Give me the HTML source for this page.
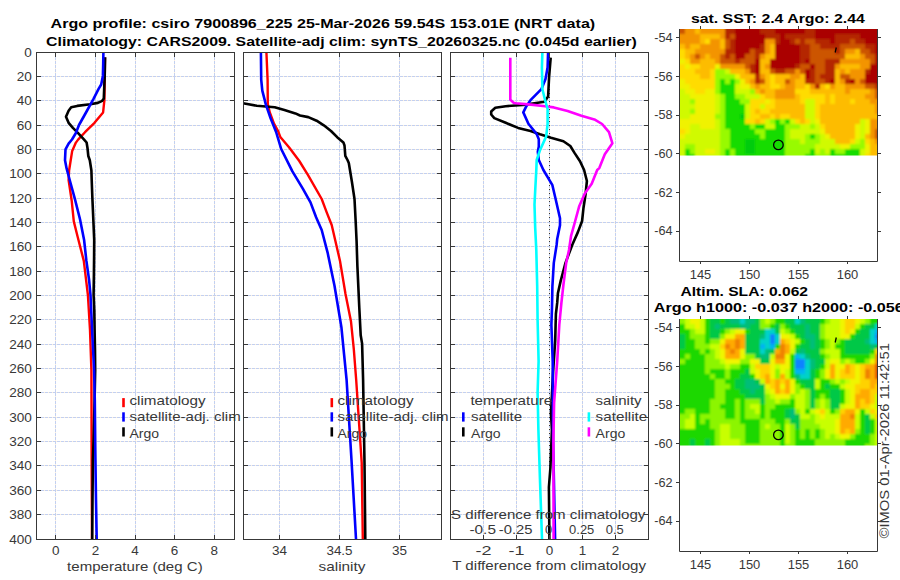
<!DOCTYPE html><html><head><meta charset="utf-8"><style>html,body{margin:0;padding:0;background:#fff;width:900px;height:580px;overflow:hidden}svg{display:block}text{font-family:"Liberation Sans",sans-serif}</style></head><body><svg width="900" height="580" viewBox="0 0 900 580" font-family="Liberation Sans, sans-serif">
<rect width="900" height="580" fill="#fff"/>
<path d="M37 76.5H234M37 100.5H234M37 125.5H234M37 149.5H234M37 173.5H234M37 198.5H234M37 222.5H234M37 246.5H234M37 271.5H234M37 295.5H234M37 319.5H234M37 344.5H234M37 368.5H234M37 392.5H234M37 417.5H234M37 441.5H234M37 465.5H234M37 490.5H234M37 514.5H234M55.5 53V539M95.5 53V539M135.5 53V539M174.5 53V539M214.5 53V539" stroke="#fdf0dc" stroke-width="1" fill="none"/>
<path d="M37 76.5H234M37 100.5H234M37 125.5H234M37 149.5H234M37 173.5H234M37 198.5H234M37 222.5H234M37 246.5H234M37 271.5H234M37 295.5H234M37 319.5H234M37 344.5H234M37 368.5H234M37 392.5H234M37 417.5H234M37 441.5H234M37 465.5H234M37 490.5H234M37 514.5H234M55.5 53V539M95.5 53V539M135.5 53V539M174.5 53V539M214.5 53V539" stroke="#c3d0f0" stroke-width="1" stroke-dasharray="3 1" fill="none"/>
<path d="M244 76.5H441M244 100.5H441M244 125.5H441M244 149.5H441M244 173.5H441M244 198.5H441M244 222.5H441M244 246.5H441M244 271.5H441M244 295.5H441M244 319.5H441M244 344.5H441M244 368.5H441M244 392.5H441M244 417.5H441M244 441.5H441M244 465.5H441M244 490.5H441M244 514.5H441M279.5 53V539M339.5 53V539M399.5 53V539" stroke="#fdf0dc" stroke-width="1" fill="none"/>
<path d="M244 76.5H441M244 100.5H441M244 125.5H441M244 149.5H441M244 173.5H441M244 198.5H441M244 222.5H441M244 246.5H441M244 271.5H441M244 295.5H441M244 319.5H441M244 344.5H441M244 368.5H441M244 392.5H441M244 417.5H441M244 441.5H441M244 465.5H441M244 490.5H441M244 514.5H441M279.5 53V539M339.5 53V539M399.5 53V539" stroke="#c3d0f0" stroke-width="1" stroke-dasharray="3 1" fill="none"/>
<path d="M451 76.5H648M451 100.5H648M451 125.5H648M451 149.5H648M451 173.5H648M451 198.5H648M451 222.5H648M451 246.5H648M451 271.5H648M451 295.5H648M451 319.5H648M451 344.5H648M451 368.5H648M451 392.5H648M451 417.5H648M451 441.5H648M451 465.5H648M451 490.5H648M451 514.5H648M483.5 53V539M516.5 53V539M549.5 53V539M582.5 53V539M615.5 53V539" stroke="#fdf0dc" stroke-width="1" fill="none"/>
<path d="M451 76.5H648M451 100.5H648M451 125.5H648M451 149.5H648M451 173.5H648M451 198.5H648M451 222.5H648M451 246.5H648M451 271.5H648M451 295.5H648M451 319.5H648M451 344.5H648M451 368.5H648M451 392.5H648M451 417.5H648M451 441.5H648M451 465.5H648M451 490.5H648M451 514.5H648M483.5 53V539M516.5 53V539M549.5 53V539M582.5 53V539M615.5 53V539" stroke="#c3d0f0" stroke-width="1" stroke-dasharray="3 1" fill="none"/>
<defs><clipPath id="c1"><rect x="36" y="52" width="199" height="488"/></clipPath><clipPath id="c2"><rect x="243" y="52" width="199" height="488"/></clipPath><clipPath id="c3"><rect x="450" y="52" width="199" height="488"/></clipPath></defs>
<path d="M549.5 53V539" stroke="#333" stroke-width="1" stroke-dasharray="1 3" fill="none"/>
<g clip-path="url(#c1)">
<polyline points="105.0,57.5 104.8,75.0 104.5,95.0 104.4,100.3 104.0,103.8 103.1,112.4 94.5,122.8 85.0,132.2 78.1,139.6 75.9,142.6 72.2,150.9 70.7,160.2 69.1,170.5 68.6,180.0 71.7,200.7 73.8,221.4 77.7,237.0 83.8,260.9 87.9,295.0 90.0,330.0 91.4,370.0 91.5,400.0 91.6,450.0 92.0,539.0" fill="none" stroke="#ff0000" stroke-width="2.4" stroke-linejoin="round" stroke-linecap="butt" />
<polyline points="105.1,57.3 104.9,66.0 104.7,75.9 104.2,88.0 103.8,98.6 102.2,100.8 97.9,102.9 90.2,104.2 77.2,105.9 71.2,107.2 68.6,110.7 66.0,116.7 68.6,122.8 72.9,127.9 78.1,133.1 84.1,139.6 86.6,142.5 87.5,148.0 88.3,156.0 89.8,160.2 91.4,170.5 91.7,180.0 92.4,198.6 93.4,221.4 94.2,240.0 94.1,255.7 93.9,275.0 93.6,295.0 94.3,310.7 94.6,330.0 95.0,350.0 95.2,370.0 94.6,400.0 93.6,440.0 92.9,460.0 92.5,500.0 92.2,539.0" fill="none" stroke="#000" stroke-width="2.6" stroke-linejoin="round" stroke-linecap="butt" />
<polyline points="103.4,52.2 103.2,64.0 102.9,75.9 101.2,84.5 98.6,88.8 93.4,99.1 86.0,112.5 79.0,125.0 75.9,133.0 72.0,139.5 68.6,143.6 65.5,149.3 65.0,160.2 66.6,168.4 69.7,180.0 74.8,198.6 80.0,219.3 84.1,240.0 86.4,260.9 89.1,280.0 90.5,295.0 92.1,330.0 94.1,370.0 94.8,400.0 95.3,450.0 96.0,500.0 96.7,539.0" fill="none" stroke="#0000ff" stroke-width="2.6" stroke-linejoin="round" stroke-linecap="butt" />
</g><g clip-path="url(#c2)">
<polyline points="266.4,52.0 267.6,79.6 267.8,104.4 269.9,112.7 274.0,123.7 278.2,131.3 280.3,136.9 289.0,147.2 299.3,161.0 307.9,174.8 321.7,199.0 326.9,212.8 331.7,225.0 340.0,260.9 345.5,294.0 351.0,321.6 353.8,349.1 356.2,380.0 361.7,462.8 362.8,539.0" fill="none" stroke="#ff0000" stroke-width="2.4" stroke-linejoin="round" stroke-linecap="butt" />
<polyline points="243.0,103.3 256.8,105.8 274.7,107.2 284.4,110.0 295.4,113.4 300.0,115.5 308.3,117.1 316.6,120.7 323.8,125.3 331.0,131.0 337.2,137.2 343.4,142.4 344.5,145.5 345.3,155.9 347.5,160.0 348.8,163.0 351.9,181.7 354.5,199.0 355.6,220.0 356.6,241.6 357.4,266.4 359.3,307.8 360.7,335.3 362.1,343.6 363.1,380.0 364.5,462.8 365.3,539.0" fill="none" stroke="#000" stroke-width="2.6" stroke-linejoin="round" stroke-linecap="butt" />
<polyline points="260.9,52.0 261.2,79.6 262.3,90.6 265.8,104.4 270.6,118.2 276.1,132.0 281.2,149.0 292.4,171.4 302.8,188.6 310.5,202.4 316.0,217.0 321.7,230.0 327.6,252.6 334.5,285.7 341.4,327.1 344.1,354.7 346.6,380.0 351.5,460.0 356.0,539.0" fill="none" stroke="#0000ff" stroke-width="2.6" stroke-linejoin="round" stroke-linecap="butt" />
</g><g clip-path="url(#c3)">
<polyline points="550.7,57.7 549.1,76.8 548.1,96.5 544.5,101.7 531.0,103.7 526.4,104.7 505.7,106.2 495.3,107.8 491.2,111.4 491.2,114.5 494.3,118.1 505.7,122.8 518.1,127.9 530.5,131.0 540.0,134.3 551.0,137.8 563.4,141.2 570.3,146.0 574.5,152.9 580.0,161.2 584.1,170.0 586.9,181.0 585.5,194.8 583.4,208.6 582.1,221.0 577.9,232.1 572.4,244.5 565.5,262.9 560.7,280.9 557.9,293.3 557.2,302.9 555.9,314.0 555.6,325.0 555.2,340.7 553.1,371.7 551.0,413.1 551.9,430.0 550.4,468.0 548.9,487.0 549.4,539.0" fill="none" stroke="#000" stroke-width="2.6" stroke-linejoin="round" stroke-linecap="butt" />
<polyline points="548.1,52.0 547.6,67.5 545.5,78.9 541.4,89.2 531.0,99.6 526.4,106.2 523.3,112.4 528.4,123.8 536.7,134.1 538.8,139.3 538.8,146.6 537.8,151.7 538.8,160.0 543.4,170.0 552.4,185.2 555.9,200.3 560.0,218.3 560.0,225.2 557.2,239.0 556.6,245.0 553.8,262.9 552.4,286.4 552.0,307.1 551.4,325.0 552.7,361.4 553.1,440.0 555.1,539.0" fill="none" stroke="#0000ff" stroke-width="2.6" stroke-linejoin="round" stroke-linecap="butt" />
<polyline points="510.3,57.7 510.3,99.6 513.4,102.7 516.0,103.2 531.0,104.6 545.0,106.2 553.8,107.4 567.6,110.9 581.4,115.7 595.2,119.8 602.1,124.0 609.0,132.2 612.4,143.3 604.8,154.3 599.3,168.1 597.2,170.0 591.7,183.8 584.8,193.4 579.3,205.9 575.2,221.0 571.0,236.2 569.0,250.0 566.2,262.9 563.4,285.0 561.4,302.9 559.3,325.0 557.2,361.4 554.1,402.8 553.4,440.0 553.6,539.0" fill="none" stroke="#ff00ff" stroke-width="2.6" stroke-linejoin="round" stroke-linecap="butt" />
<polyline points="542.4,52.0 541.9,67.5 542.4,89.2 545.5,101.7 547.6,108.8 547.6,124.0 546.2,136.4 540.0,150.2 536.7,160.0 536.3,170.0 535.2,190.7 534.5,204.5 535.2,227.9 536.3,250.0 537.2,286.4 537.6,320.0 538.6,361.4 537.6,392.4 538.4,430.0 539.9,477.5 542.0,539.0" fill="none" stroke="#00ffff" stroke-width="2.6" stroke-linejoin="round" stroke-linecap="butt" />
</g>
<path d="M36.5 76.5H41M234.5 76.5H230M36.5 100.5H41M234.5 100.5H230M36.5 125.5H41M234.5 125.5H230M36.5 149.5H41M234.5 149.5H230M36.5 173.5H41M234.5 173.5H230M36.5 198.5H41M234.5 198.5H230M36.5 222.5H41M234.5 222.5H230M36.5 246.5H41M234.5 246.5H230M36.5 271.5H41M234.5 271.5H230M36.5 295.5H41M234.5 295.5H230M36.5 319.5H41M234.5 319.5H230M36.5 344.5H41M234.5 344.5H230M36.5 368.5H41M234.5 368.5H230M36.5 392.5H41M234.5 392.5H230M36.5 417.5H41M234.5 417.5H230M36.5 441.5H41M234.5 441.5H230M36.5 465.5H41M234.5 465.5H230M36.5 490.5H41M234.5 490.5H230M36.5 514.5H41M234.5 514.5H230M55.5 52.5V57M55.5 539.5V535M95.5 52.5V57M95.5 539.5V535M135.5 52.5V57M135.5 539.5V535M174.5 52.5V57M174.5 539.5V535M214.5 52.5V57M214.5 539.5V535" stroke="#383838" stroke-width="1" fill="none"/>
<rect x="36.5" y="52.5" width="198" height="487" fill="none" stroke="#383838" stroke-width="1"/>
<path d="M243.5 76.5H248M441.5 76.5H437M243.5 100.5H248M441.5 100.5H437M243.5 125.5H248M441.5 125.5H437M243.5 149.5H248M441.5 149.5H437M243.5 173.5H248M441.5 173.5H437M243.5 198.5H248M441.5 198.5H437M243.5 222.5H248M441.5 222.5H437M243.5 246.5H248M441.5 246.5H437M243.5 271.5H248M441.5 271.5H437M243.5 295.5H248M441.5 295.5H437M243.5 319.5H248M441.5 319.5H437M243.5 344.5H248M441.5 344.5H437M243.5 368.5H248M441.5 368.5H437M243.5 392.5H248M441.5 392.5H437M243.5 417.5H248M441.5 417.5H437M243.5 441.5H248M441.5 441.5H437M243.5 465.5H248M441.5 465.5H437M243.5 490.5H248M441.5 490.5H437M243.5 514.5H248M441.5 514.5H437M279.5 52.5V57M279.5 539.5V535M339.5 52.5V57M339.5 539.5V535M399.5 52.5V57M399.5 539.5V535" stroke="#383838" stroke-width="1" fill="none"/>
<rect x="243.5" y="52.5" width="198" height="487" fill="none" stroke="#383838" stroke-width="1"/>
<path d="M450.5 76.5H455M648.5 76.5H644M450.5 100.5H455M648.5 100.5H644M450.5 125.5H455M648.5 125.5H644M450.5 149.5H455M648.5 149.5H644M450.5 173.5H455M648.5 173.5H644M450.5 198.5H455M648.5 198.5H644M450.5 222.5H455M648.5 222.5H644M450.5 246.5H455M648.5 246.5H644M450.5 271.5H455M648.5 271.5H644M450.5 295.5H455M648.5 295.5H644M450.5 319.5H455M648.5 319.5H644M450.5 344.5H455M648.5 344.5H644M450.5 368.5H455M648.5 368.5H644M450.5 392.5H455M648.5 392.5H644M450.5 417.5H455M648.5 417.5H644M450.5 441.5H455M648.5 441.5H644M450.5 465.5H455M648.5 465.5H644M450.5 490.5H455M648.5 490.5H644M450.5 514.5H455M648.5 514.5H644M483.5 52.5V57M483.5 539.5V535M516.5 52.5V57M516.5 539.5V535M549.5 52.5V57M549.5 539.5V535M582.5 52.5V57M582.5 539.5V535M615.5 52.5V57M615.5 539.5V535" stroke="#383838" stroke-width="1" fill="none"/>
<rect x="450.5" y="52.5" width="198" height="487" fill="none" stroke="#383838" stroke-width="1"/>
<text x="24.35" y="56.60" font-size="12.6" fill="#383838" textLength="7.55" lengthAdjust="spacingAndGlyphs" >0</text>
<text x="16.80" y="80.60" font-size="12.6" fill="#383838" textLength="15.10" lengthAdjust="spacingAndGlyphs" >20</text>
<text x="16.80" y="104.60" font-size="12.6" fill="#383838" textLength="15.10" lengthAdjust="spacingAndGlyphs" >40</text>
<text x="16.80" y="129.60" font-size="12.6" fill="#383838" textLength="15.10" lengthAdjust="spacingAndGlyphs" >60</text>
<text x="16.80" y="153.60" font-size="12.6" fill="#383838" textLength="15.10" lengthAdjust="spacingAndGlyphs" >80</text>
<text x="9.25" y="177.60" font-size="12.6" fill="#383838" textLength="22.65" lengthAdjust="spacingAndGlyphs" >100</text>
<text x="9.25" y="202.60" font-size="12.6" fill="#383838" textLength="22.65" lengthAdjust="spacingAndGlyphs" >120</text>
<text x="9.25" y="226.60" font-size="12.6" fill="#383838" textLength="22.65" lengthAdjust="spacingAndGlyphs" >140</text>
<text x="9.25" y="250.60" font-size="12.6" fill="#383838" textLength="22.65" lengthAdjust="spacingAndGlyphs" >160</text>
<text x="9.25" y="275.60" font-size="12.6" fill="#383838" textLength="22.65" lengthAdjust="spacingAndGlyphs" >180</text>
<text x="9.25" y="299.60" font-size="12.6" fill="#383838" textLength="22.65" lengthAdjust="spacingAndGlyphs" >200</text>
<text x="9.25" y="323.60" font-size="12.6" fill="#383838" textLength="22.65" lengthAdjust="spacingAndGlyphs" >220</text>
<text x="9.25" y="348.60" font-size="12.6" fill="#383838" textLength="22.65" lengthAdjust="spacingAndGlyphs" >240</text>
<text x="9.25" y="372.60" font-size="12.6" fill="#383838" textLength="22.65" lengthAdjust="spacingAndGlyphs" >260</text>
<text x="9.25" y="396.60" font-size="12.6" fill="#383838" textLength="22.65" lengthAdjust="spacingAndGlyphs" >280</text>
<text x="9.25" y="421.60" font-size="12.6" fill="#383838" textLength="22.65" lengthAdjust="spacingAndGlyphs" >300</text>
<text x="9.25" y="445.60" font-size="12.6" fill="#383838" textLength="22.65" lengthAdjust="spacingAndGlyphs" >320</text>
<text x="9.25" y="469.60" font-size="12.6" fill="#383838" textLength="22.65" lengthAdjust="spacingAndGlyphs" >340</text>
<text x="9.25" y="494.60" font-size="12.6" fill="#383838" textLength="22.65" lengthAdjust="spacingAndGlyphs" >360</text>
<text x="9.25" y="518.60" font-size="12.6" fill="#383838" textLength="22.65" lengthAdjust="spacingAndGlyphs" >380</text>
<text x="9.25" y="543.60" font-size="12.6" fill="#383838" textLength="22.65" lengthAdjust="spacingAndGlyphs" >400</text>
<text x="52.05" y="554.60" font-size="12.6" fill="#383838" textLength="7.50" lengthAdjust="spacingAndGlyphs" >0</text>
<text x="91.65" y="554.60" font-size="12.6" fill="#383838" textLength="7.50" lengthAdjust="spacingAndGlyphs" >2</text>
<text x="131.25" y="554.60" font-size="12.6" fill="#383838" textLength="7.50" lengthAdjust="spacingAndGlyphs" >4</text>
<text x="170.85" y="554.60" font-size="12.6" fill="#383838" textLength="7.50" lengthAdjust="spacingAndGlyphs" >6</text>
<text x="210.45" y="554.60" font-size="12.6" fill="#383838" textLength="7.50" lengthAdjust="spacingAndGlyphs" >8</text>
<text x="272.00" y="554.60" font-size="12.6" fill="#383838" textLength="15.00" lengthAdjust="spacingAndGlyphs" >34</text>
<text x="326.45" y="554.60" font-size="12.6" fill="#383838" textLength="26.10" lengthAdjust="spacingAndGlyphs" >34.5</text>
<text x="392.00" y="554.60" font-size="12.6" fill="#383838" textLength="15.00" lengthAdjust="spacingAndGlyphs" >35</text>
<text x="475.50" y="554.60" font-size="12.6" fill="#383838" textLength="16.00" lengthAdjust="spacingAndGlyphs" >-2</text>
<text x="508.50" y="554.60" font-size="12.6" fill="#383838" textLength="16.00" lengthAdjust="spacingAndGlyphs" >-1</text>
<text x="545.75" y="554.60" font-size="12.6" fill="#383838" textLength="7.50" lengthAdjust="spacingAndGlyphs" >0</text>
<text x="578.75" y="554.60" font-size="12.6" fill="#383838" textLength="7.50" lengthAdjust="spacingAndGlyphs" >1</text>
<text x="611.75" y="554.60" font-size="12.6" fill="#383838" textLength="7.50" lengthAdjust="spacingAndGlyphs" >2</text>
<text x="67.10" y="571.00" font-size="12.6" fill="#383838" textLength="135.60" lengthAdjust="spacingAndGlyphs" >temperature (deg C)</text>
<text x="318.50" y="571.00" font-size="12.6" fill="#383838" textLength="47.00" lengthAdjust="spacingAndGlyphs" >salinity</text>
<text x="452.20" y="570.20" font-size="12.6" fill="#383838" textLength="193.90" lengthAdjust="spacingAndGlyphs" >T difference from climatology</text>
<text x="451.00" y="518.80" font-size="12.6" fill="#383838" textLength="194.40" lengthAdjust="spacingAndGlyphs" >S difference from climatology</text>
<text x="469.45" y="533.60" font-size="12.6" fill="#383838" textLength="26.50" lengthAdjust="spacingAndGlyphs" >-0.5</text>
<text x="498.85" y="533.60" font-size="12.6" fill="#383838" textLength="33.70" lengthAdjust="spacingAndGlyphs" >-0.25</text>
<text x="545.10" y="533.60" font-size="12.6" fill="#383838" textLength="7.20" lengthAdjust="spacingAndGlyphs" >0</text>
<text x="569.10" y="533.60" font-size="12.6" fill="#383838" textLength="25.20" lengthAdjust="spacingAndGlyphs" >0.25</text>
<text x="605.70" y="533.60" font-size="12.6" fill="#383838" textLength="18.00" lengthAdjust="spacingAndGlyphs" >0.5</text>
<rect x="122.2" y="398.1" width="2.6" height="9.1" fill="#ff0000"/>
<rect x="122.2" y="412.3" width="2.6" height="9.3" fill="#0000ff"/>
<rect x="122.2" y="427.3" width="2.6" height="9.2" fill="#000"/>
<text x="129.50" y="405.00" font-size="12.6" fill="#383838" textLength="76.10" lengthAdjust="spacingAndGlyphs" >climatology</text>
<text x="129.50" y="421.30" font-size="12.6" fill="#383838" textLength="111.20" lengthAdjust="spacingAndGlyphs" >satellite-adj. clim</text>
<text x="129.50" y="438.20" font-size="12.6" fill="#383838" textLength="29.60" lengthAdjust="spacingAndGlyphs" >Argo</text>
<rect x="330.5" y="398.1" width="2.6" height="9.1" fill="#ff0000"/>
<rect x="330.5" y="412.3" width="2.6" height="9.3" fill="#0000ff"/>
<rect x="330.5" y="427.3" width="2.6" height="9.2" fill="#000"/>
<text x="337.41" y="405.00" font-size="12.6" fill="#383838" textLength="76.10" lengthAdjust="spacingAndGlyphs" >climatology</text>
<text x="337.41" y="421.30" font-size="12.6" fill="#383838" textLength="111.20" lengthAdjust="spacingAndGlyphs" >satellite-adj. clim</text>
<text x="337.41" y="438.20" font-size="12.6" fill="#383838" textLength="29.60" lengthAdjust="spacingAndGlyphs" >Argo</text>
<rect x="462.0" y="412.3" width="2.6" height="9.3" fill="#0000ff"/>
<rect x="462.0" y="427.3" width="2.6" height="9.2" fill="#000"/>
<rect x="587.6" y="412.3" width="2.6" height="9.3" fill="#00ffff"/>
<rect x="587.6" y="427.3" width="2.6" height="9.2" fill="#ff00ff"/>
<text x="470.40" y="404.60" font-size="12.6" fill="#383838" textLength="81.80" lengthAdjust="spacingAndGlyphs" >temperature</text>
<text x="471.00" y="421.20" font-size="12.6" fill="#383838" textLength="51.20" lengthAdjust="spacingAndGlyphs" >satellite</text>
<text x="471.00" y="437.90" font-size="12.6" fill="#383838" textLength="29.70" lengthAdjust="spacingAndGlyphs" >Argo</text>
<text x="595.60" y="404.60" font-size="12.6" fill="#383838" textLength="46.00" lengthAdjust="spacingAndGlyphs" >salinity</text>
<text x="595.60" y="421.20" font-size="12.6" fill="#383838" textLength="51.70" lengthAdjust="spacingAndGlyphs" >satellite</text>
<text x="595.60" y="437.90" font-size="12.6" fill="#383838" textLength="29.70" lengthAdjust="spacingAndGlyphs" >Argo</text>
<text x="50.60" y="28.30" font-size="12.4" font-weight="bold" fill="#000" textLength="544.60" lengthAdjust="spacingAndGlyphs" >Argo profile: csiro 7900896_225 25-Mar-2026 59.54S 153.01E (NRT data)</text>
<text x="46.10" y="46.00" font-size="12.4" font-weight="bold" fill="#000" textLength="590.70" lengthAdjust="spacingAndGlyphs" >Climatology: CARS2009. Satellite-adj clim: synTS_20260325.nc (0.045d earlier)</text>
<defs><filter id="mb" x="-0.05" y="-0.05" width="1.1" height="1.1"><feGaussianBlur stdDeviation="1.2"/></filter><clipPath id="m1c"><rect x="680" y="29" width="197" height="126.6"/></clipPath><clipPath id="m2c"><rect x="680" y="319" width="197" height="126.6"/></clipPath></defs>
<g clip-path="url(#m1c)"><g filter="url(#mb)"><rect x="675" y="24" width="10" height="5.2" fill="#cc5400"/><rect x="685" y="24" width="10" height="5.2" fill="#f39400"/><rect x="695" y="24" width="5" height="5.2" fill="#fdbc00"/><rect x="700" y="24" width="25" height="5.2" fill="#f39400"/><rect x="725" y="24" width="10" height="5.2" fill="#b42800"/><rect x="735" y="24" width="25" height="5.2" fill="#aa0000"/><rect x="760" y="24" width="15" height="5.2" fill="#b42800"/><rect x="775" y="24" width="30" height="5.2" fill="#aa0000"/><rect x="805" y="24" width="10" height="5.2" fill="#b42800"/><rect x="815" y="24" width="70" height="5.2" fill="#aa0000"/><rect x="675" y="29" width="10" height="5.2" fill="#cc5400"/><rect x="685" y="29" width="10" height="5.2" fill="#f39400"/><rect x="695" y="29" width="5" height="5.2" fill="#fdbc00"/><rect x="700" y="29" width="25" height="5.2" fill="#f39400"/><rect x="725" y="29" width="10" height="5.2" fill="#b42800"/><rect x="735" y="29" width="25" height="5.2" fill="#aa0000"/><rect x="760" y="29" width="15" height="5.2" fill="#b42800"/><rect x="775" y="29" width="30" height="5.2" fill="#aa0000"/><rect x="805" y="29" width="10" height="5.2" fill="#b42800"/><rect x="815" y="29" width="70" height="5.2" fill="#aa0000"/><rect x="675" y="34" width="25" height="5.2" fill="#f39400"/><rect x="700" y="34" width="20" height="5.2" fill="#fdbc00"/><rect x="720" y="34" width="5" height="5.2" fill="#f39400"/><rect x="725" y="34" width="5" height="5.2" fill="#b42800"/><rect x="730" y="34" width="5" height="5.2" fill="#cc5400"/><rect x="735" y="34" width="30" height="5.2" fill="#aa0000"/><rect x="765" y="34" width="15" height="5.2" fill="#b42800"/><rect x="780" y="34" width="5" height="5.2" fill="#aa0000"/><rect x="785" y="34" width="30" height="5.2" fill="#b42800"/><rect x="815" y="34" width="20" height="5.2" fill="#aa0000"/><rect x="835" y="34" width="25" height="5.2" fill="#b42800"/><rect x="860" y="34" width="25" height="5.2" fill="#aa0000"/><rect x="675" y="39" width="25" height="5.2" fill="#f39400"/><rect x="700" y="39" width="5" height="5.2" fill="#fdbc00"/><rect x="705" y="39" width="5" height="5.2" fill="#ffdc00"/><rect x="710" y="39" width="10" height="5.2" fill="#f39400"/><rect x="720" y="39" width="5" height="5.2" fill="#fdbc00"/><rect x="725" y="39" width="5" height="5.2" fill="#cc5400"/><rect x="730" y="39" width="5" height="5.2" fill="#b42800"/><rect x="735" y="39" width="30" height="5.2" fill="#aa0000"/><rect x="765" y="39" width="10" height="5.2" fill="#f39400"/><rect x="775" y="39" width="5" height="5.2" fill="#b42800"/><rect x="780" y="39" width="10" height="5.2" fill="#aa0000"/><rect x="790" y="39" width="5" height="5.2" fill="#b42800"/><rect x="795" y="39" width="5" height="5.2" fill="#cc5400"/><rect x="800" y="39" width="5" height="5.2" fill="#b42800"/><rect x="805" y="39" width="10" height="5.2" fill="#cc5400"/><rect x="815" y="39" width="15" height="5.2" fill="#b42800"/><rect x="830" y="39" width="5" height="5.2" fill="#aa0000"/><rect x="835" y="39" width="15" height="5.2" fill="#b42800"/><rect x="850" y="39" width="5" height="5.2" fill="#cc5400"/><rect x="855" y="39" width="10" height="5.2" fill="#b42800"/><rect x="865" y="39" width="20" height="5.2" fill="#aa0000"/><rect x="675" y="44" width="10" height="5.2" fill="#fdbc00"/><rect x="685" y="44" width="5" height="5.2" fill="#f39400"/><rect x="690" y="44" width="10" height="5.2" fill="#fdbc00"/><rect x="700" y="44" width="20" height="5.2" fill="#f39400"/><rect x="720" y="44" width="5" height="5.2" fill="#fdbc00"/><rect x="725" y="44" width="5" height="5.2" fill="#cc5400"/><rect x="730" y="44" width="5" height="5.2" fill="#b42800"/><rect x="735" y="44" width="25" height="5.2" fill="#aa0000"/><rect x="760" y="44" width="5" height="5.2" fill="#b42800"/><rect x="765" y="44" width="5" height="5.2" fill="#f39400"/><rect x="770" y="44" width="5" height="5.2" fill="#fdbc00"/><rect x="775" y="44" width="25" height="5.2" fill="#aa0000"/><rect x="800" y="44" width="10" height="5.2" fill="#b42800"/><rect x="810" y="44" width="10" height="5.2" fill="#cc5400"/><rect x="820" y="44" width="20" height="5.2" fill="#b42800"/><rect x="840" y="44" width="25" height="5.2" fill="#cc5400"/><rect x="865" y="44" width="10" height="5.2" fill="#b42800"/><rect x="875" y="44" width="10" height="5.2" fill="#aa0000"/><rect x="675" y="49" width="10" height="5.2" fill="#ffdc00"/><rect x="685" y="49" width="10" height="5.2" fill="#fdbc00"/><rect x="695" y="49" width="30" height="5.2" fill="#f39400"/><rect x="725" y="49" width="10" height="5.2" fill="#b42800"/><rect x="735" y="49" width="15" height="5.2" fill="#aa0000"/><rect x="750" y="49" width="5" height="5.2" fill="#cc5400"/><rect x="755" y="49" width="10" height="5.2" fill="#b42800"/><rect x="765" y="49" width="5" height="5.2" fill="#f39400"/><rect x="770" y="49" width="5" height="5.2" fill="#fdbc00"/><rect x="775" y="49" width="25" height="5.2" fill="#aa0000"/><rect x="800" y="49" width="10" height="5.2" fill="#b42800"/><rect x="810" y="49" width="25" height="5.2" fill="#cc5400"/><rect x="835" y="49" width="5" height="5.2" fill="#b42800"/><rect x="840" y="49" width="5" height="5.2" fill="#cc5400"/><rect x="845" y="49" width="10" height="5.2" fill="#f39400"/><rect x="855" y="49" width="5" height="5.2" fill="#fdbc00"/><rect x="860" y="49" width="10" height="5.2" fill="#cc5400"/><rect x="870" y="49" width="5" height="5.2" fill="#b42800"/><rect x="875" y="49" width="10" height="5.2" fill="#aa0000"/><rect x="675" y="54" width="10" height="5.2" fill="#ffdc00"/><rect x="685" y="54" width="5" height="5.2" fill="#fdbc00"/><rect x="690" y="54" width="5" height="5.2" fill="#f39400"/><rect x="695" y="54" width="5" height="5.2" fill="#cc5400"/><rect x="700" y="54" width="5" height="5.2" fill="#f39400"/><rect x="705" y="54" width="5" height="5.2" fill="#fdbc00"/><rect x="710" y="54" width="10" height="5.2" fill="#f39400"/><rect x="720" y="54" width="5" height="5.2" fill="#cc5400"/><rect x="725" y="54" width="5" height="5.2" fill="#b42800"/><rect x="730" y="54" width="5" height="5.2" fill="#cc5400"/><rect x="735" y="54" width="10" height="5.2" fill="#aa0000"/><rect x="745" y="54" width="10" height="5.2" fill="#cc5400"/><rect x="755" y="54" width="5" height="5.2" fill="#b42800"/><rect x="760" y="54" width="5" height="5.2" fill="#f39400"/><rect x="765" y="54" width="10" height="5.2" fill="#fdbc00"/><rect x="775" y="54" width="25" height="5.2" fill="#aa0000"/><rect x="800" y="54" width="10" height="5.2" fill="#b42800"/><rect x="810" y="54" width="35" height="5.2" fill="#cc5400"/><rect x="845" y="54" width="15" height="5.2" fill="#fdbc00"/><rect x="860" y="54" width="5" height="5.2" fill="#f39400"/><rect x="865" y="54" width="10" height="5.2" fill="#cc5400"/><rect x="875" y="54" width="10" height="5.2" fill="#aa0000"/><rect x="675" y="59" width="10" height="5.2" fill="#f0f200"/><rect x="685" y="59" width="5" height="5.2" fill="#ffdc00"/><rect x="690" y="59" width="10" height="5.2" fill="#f39400"/><rect x="700" y="59" width="15" height="5.2" fill="#fdbc00"/><rect x="715" y="59" width="5" height="5.2" fill="#f39400"/><rect x="720" y="59" width="15" height="5.2" fill="#cc5400"/><rect x="735" y="59" width="5" height="5.2" fill="#b42800"/><rect x="740" y="59" width="15" height="5.2" fill="#cc5400"/><rect x="755" y="59" width="5" height="5.2" fill="#aa0000"/><rect x="760" y="59" width="10" height="5.2" fill="#fdbc00"/><rect x="770" y="59" width="30" height="5.2" fill="#aa0000"/><rect x="800" y="59" width="5" height="5.2" fill="#b42800"/><rect x="805" y="59" width="5" height="5.2" fill="#aa0000"/><rect x="810" y="59" width="15" height="5.2" fill="#cc5400"/><rect x="825" y="59" width="15" height="5.2" fill="#b42800"/><rect x="840" y="59" width="30" height="5.2" fill="#f39400"/><rect x="870" y="59" width="5" height="5.2" fill="#cc5400"/><rect x="875" y="59" width="10" height="5.2" fill="#aa0000"/><rect x="675" y="64" width="10" height="5.2" fill="#ffdc00"/><rect x="685" y="64" width="5" height="5.2" fill="#f0f200"/><rect x="690" y="64" width="10" height="5.2" fill="#ffdc00"/><rect x="700" y="64" width="15" height="5.2" fill="#fdbc00"/><rect x="715" y="64" width="5" height="5.2" fill="#f0f200"/><rect x="720" y="64" width="25" height="5.2" fill="#f39400"/><rect x="745" y="64" width="5" height="5.2" fill="#cc5400"/><rect x="750" y="64" width="5" height="5.2" fill="#b42800"/><rect x="755" y="64" width="5" height="5.2" fill="#aa0000"/><rect x="760" y="64" width="5" height="5.2" fill="#fdbc00"/><rect x="765" y="64" width="5" height="5.2" fill="#f39400"/><rect x="770" y="64" width="25" height="5.2" fill="#aa0000"/><rect x="795" y="64" width="5" height="5.2" fill="#b42800"/><rect x="800" y="64" width="10" height="5.2" fill="#cc5400"/><rect x="810" y="64" width="5" height="5.2" fill="#aa0000"/><rect x="815" y="64" width="10" height="5.2" fill="#cc5400"/><rect x="825" y="64" width="10" height="5.2" fill="#b42800"/><rect x="835" y="64" width="5" height="5.2" fill="#f39400"/><rect x="840" y="64" width="20" height="5.2" fill="#fdbc00"/><rect x="860" y="64" width="10" height="5.2" fill="#f39400"/><rect x="870" y="64" width="15" height="5.2" fill="#aa0000"/><rect x="675" y="69" width="20" height="5.2" fill="#ffdc00"/><rect x="695" y="69" width="15" height="5.2" fill="#fdbc00"/><rect x="710" y="69" width="5" height="5.2" fill="#ffdc00"/><rect x="715" y="69" width="10" height="5.2" fill="#98fa00"/><rect x="725" y="69" width="5" height="5.2" fill="#d0fa00"/><rect x="730" y="69" width="15" height="5.2" fill="#fdbc00"/><rect x="745" y="69" width="5" height="5.2" fill="#f39400"/><rect x="750" y="69" width="5" height="5.2" fill="#b42800"/><rect x="755" y="69" width="5" height="5.2" fill="#aa0000"/><rect x="760" y="69" width="10" height="5.2" fill="#fdbc00"/><rect x="770" y="69" width="5" height="5.2" fill="#cc5400"/><rect x="775" y="69" width="10" height="5.2" fill="#b42800"/><rect x="785" y="69" width="10" height="5.2" fill="#cc5400"/><rect x="795" y="69" width="5" height="5.2" fill="#f39400"/><rect x="800" y="69" width="5" height="5.2" fill="#cc5400"/><rect x="805" y="69" width="5" height="5.2" fill="#aa0000"/><rect x="810" y="69" width="5" height="5.2" fill="#b42800"/><rect x="815" y="69" width="10" height="5.2" fill="#cc5400"/><rect x="825" y="69" width="10" height="5.2" fill="#b42800"/><rect x="835" y="69" width="5" height="5.2" fill="#fdbc00"/><rect x="840" y="69" width="5" height="5.2" fill="#f39400"/><rect x="845" y="69" width="5" height="5.2" fill="#fdbc00"/><rect x="850" y="69" width="15" height="5.2" fill="#f39400"/><rect x="865" y="69" width="5" height="5.2" fill="#b42800"/><rect x="870" y="69" width="15" height="5.2" fill="#aa0000"/><rect x="675" y="74" width="25" height="5.2" fill="#ffdc00"/><rect x="700" y="74" width="10" height="5.2" fill="#fdbc00"/><rect x="710" y="74" width="5" height="5.2" fill="#ffdc00"/><rect x="715" y="74" width="20" height="5.2" fill="#98fa00"/><rect x="735" y="74" width="5" height="5.2" fill="#f0f200"/><rect x="740" y="74" width="15" height="5.2" fill="#fdbc00"/><rect x="755" y="74" width="5" height="5.2" fill="#b42800"/><rect x="760" y="74" width="5" height="5.2" fill="#f39400"/><rect x="765" y="74" width="5" height="5.2" fill="#fdbc00"/><rect x="770" y="74" width="5" height="5.2" fill="#ffdc00"/><rect x="775" y="74" width="15" height="5.2" fill="#fdbc00"/><rect x="790" y="74" width="10" height="5.2" fill="#f39400"/><rect x="800" y="74" width="5" height="5.2" fill="#fdbc00"/><rect x="805" y="74" width="5" height="5.2" fill="#aa0000"/><rect x="810" y="74" width="5" height="5.2" fill="#b42800"/><rect x="815" y="74" width="5" height="5.2" fill="#cc5400"/><rect x="820" y="74" width="15" height="5.2" fill="#b42800"/><rect x="835" y="74" width="5" height="5.2" fill="#fdbc00"/><rect x="840" y="74" width="10" height="5.2" fill="#cc5400"/><rect x="850" y="74" width="15" height="5.2" fill="#f39400"/><rect x="865" y="74" width="20" height="5.2" fill="#aa0000"/><rect x="675" y="79" width="10" height="5.2" fill="#f0f200"/><rect x="685" y="79" width="30" height="5.2" fill="#ffdc00"/><rect x="715" y="79" width="5" height="5.2" fill="#98fa00"/><rect x="720" y="79" width="5" height="5.2" fill="#14dc00"/><rect x="725" y="79" width="5" height="5.2" fill="#98fa00"/><rect x="730" y="79" width="5" height="5.2" fill="#14dc00"/><rect x="735" y="79" width="5" height="5.2" fill="#98fa00"/><rect x="740" y="79" width="5" height="5.2" fill="#f0f200"/><rect x="745" y="79" width="5" height="5.2" fill="#fdbc00"/><rect x="750" y="79" width="5" height="5.2" fill="#f39400"/><rect x="755" y="79" width="5" height="5.2" fill="#b42800"/><rect x="760" y="79" width="5" height="5.2" fill="#cc5400"/><rect x="765" y="79" width="5" height="5.2" fill="#fdbc00"/><rect x="770" y="79" width="5" height="5.2" fill="#ffdc00"/><rect x="775" y="79" width="10" height="5.2" fill="#fdbc00"/><rect x="785" y="79" width="5" height="5.2" fill="#cc5400"/><rect x="790" y="79" width="5" height="5.2" fill="#f39400"/><rect x="795" y="79" width="10" height="5.2" fill="#fdbc00"/><rect x="805" y="79" width="10" height="5.2" fill="#b42800"/><rect x="815" y="79" width="10" height="5.2" fill="#cc5400"/><rect x="825" y="79" width="5" height="5.2" fill="#b42800"/><rect x="830" y="79" width="5" height="5.2" fill="#aa0000"/><rect x="835" y="79" width="5" height="5.2" fill="#fdbc00"/><rect x="840" y="79" width="5" height="5.2" fill="#f39400"/><rect x="845" y="79" width="5" height="5.2" fill="#b42800"/><rect x="850" y="79" width="5" height="5.2" fill="#aa0000"/><rect x="855" y="79" width="5" height="5.2" fill="#f39400"/><rect x="860" y="79" width="5" height="5.2" fill="#cc5400"/><rect x="865" y="79" width="20" height="5.2" fill="#aa0000"/><rect x="675" y="84" width="15" height="5.2" fill="#f0f200"/><rect x="690" y="84" width="25" height="5.2" fill="#ffdc00"/><rect x="715" y="84" width="5" height="5.2" fill="#98fa00"/><rect x="720" y="84" width="15" height="5.2" fill="#14dc00"/><rect x="735" y="84" width="5" height="5.2" fill="#d0fa00"/><rect x="740" y="84" width="10" height="5.2" fill="#f0f200"/><rect x="750" y="84" width="5" height="5.2" fill="#fdbc00"/><rect x="755" y="84" width="5" height="5.2" fill="#f39400"/><rect x="760" y="84" width="10" height="5.2" fill="#fdbc00"/><rect x="770" y="84" width="10" height="5.2" fill="#ffdc00"/><rect x="780" y="84" width="5" height="5.2" fill="#fdbc00"/><rect x="785" y="84" width="10" height="5.2" fill="#f39400"/><rect x="795" y="84" width="10" height="5.2" fill="#fdbc00"/><rect x="805" y="84" width="5" height="5.2" fill="#ffdc00"/><rect x="810" y="84" width="5" height="5.2" fill="#f39400"/><rect x="815" y="84" width="5" height="5.2" fill="#b42800"/><rect x="820" y="84" width="5" height="5.2" fill="#fdbc00"/><rect x="825" y="84" width="5" height="5.2" fill="#ffdc00"/><rect x="830" y="84" width="5" height="5.2" fill="#f39400"/><rect x="835" y="84" width="10" height="5.2" fill="#fdbc00"/><rect x="845" y="84" width="20" height="5.2" fill="#f39400"/><rect x="865" y="84" width="10" height="5.2" fill="#cc5400"/><rect x="875" y="84" width="10" height="5.2" fill="#b42800"/><rect x="675" y="89" width="10" height="5.2" fill="#d0fa00"/><rect x="685" y="89" width="10" height="5.2" fill="#f0f200"/><rect x="695" y="89" width="10" height="5.2" fill="#ffdc00"/><rect x="705" y="89" width="10" height="5.2" fill="#f0f200"/><rect x="715" y="89" width="5" height="5.2" fill="#98fa00"/><rect x="720" y="89" width="15" height="5.2" fill="#14dc00"/><rect x="735" y="89" width="15" height="5.2" fill="#d0fa00"/><rect x="750" y="89" width="5" height="5.2" fill="#98fa00"/><rect x="755" y="89" width="5" height="5.2" fill="#fdbc00"/><rect x="760" y="89" width="5" height="5.2" fill="#f39400"/><rect x="765" y="89" width="10" height="5.2" fill="#fdbc00"/><rect x="775" y="89" width="20" height="5.2" fill="#f39400"/><rect x="795" y="89" width="15" height="5.2" fill="#ffdc00"/><rect x="810" y="89" width="35" height="5.2" fill="#fdbc00"/><rect x="845" y="89" width="5" height="5.2" fill="#f39400"/><rect x="850" y="89" width="20" height="5.2" fill="#fdbc00"/><rect x="870" y="89" width="5" height="5.2" fill="#f39400"/><rect x="875" y="89" width="10" height="5.2" fill="#cc5400"/><rect x="675" y="94" width="15" height="5.2" fill="#d0fa00"/><rect x="690" y="94" width="25" height="5.2" fill="#f0f200"/><rect x="715" y="94" width="5" height="5.2" fill="#d0fa00"/><rect x="720" y="94" width="5" height="5.2" fill="#98fa00"/><rect x="725" y="94" width="10" height="5.2" fill="#14dc00"/><rect x="735" y="94" width="10" height="5.2" fill="#98fa00"/><rect x="745" y="94" width="15" height="5.2" fill="#d0fa00"/><rect x="760" y="94" width="5" height="5.2" fill="#ffdc00"/><rect x="765" y="94" width="10" height="5.2" fill="#fdbc00"/><rect x="775" y="94" width="20" height="5.2" fill="#f39400"/><rect x="795" y="94" width="5" height="5.2" fill="#fdbc00"/><rect x="800" y="94" width="25" height="5.2" fill="#ffdc00"/><rect x="825" y="94" width="5" height="5.2" fill="#fdbc00"/><rect x="830" y="94" width="5" height="5.2" fill="#ffdc00"/><rect x="835" y="94" width="30" height="5.2" fill="#fdbc00"/><rect x="865" y="94" width="10" height="5.2" fill="#f39400"/><rect x="875" y="94" width="10" height="5.2" fill="#cc5400"/><rect x="675" y="99" width="15" height="5.2" fill="#d0fa00"/><rect x="690" y="99" width="5" height="5.2" fill="#98fa00"/><rect x="695" y="99" width="20" height="5.2" fill="#f0f200"/><rect x="715" y="99" width="5" height="5.2" fill="#d0fa00"/><rect x="720" y="99" width="5" height="5.2" fill="#98fa00"/><rect x="725" y="99" width="15" height="5.2" fill="#14dc00"/><rect x="740" y="99" width="10" height="5.2" fill="#98fa00"/><rect x="750" y="99" width="15" height="5.2" fill="#ffdc00"/><rect x="765" y="99" width="5" height="5.2" fill="#f0f200"/><rect x="770" y="99" width="5" height="5.2" fill="#ffdc00"/><rect x="775" y="99" width="25" height="5.2" fill="#fdbc00"/><rect x="800" y="99" width="5" height="5.2" fill="#ffdc00"/><rect x="805" y="99" width="10" height="5.2" fill="#d0fa00"/><rect x="815" y="99" width="10" height="5.2" fill="#ffdc00"/><rect x="825" y="99" width="5" height="5.2" fill="#fdbc00"/><rect x="830" y="99" width="5" height="5.2" fill="#ffdc00"/><rect x="835" y="99" width="15" height="5.2" fill="#fdbc00"/><rect x="850" y="99" width="5" height="5.2" fill="#ffdc00"/><rect x="855" y="99" width="15" height="5.2" fill="#fdbc00"/><rect x="870" y="99" width="15" height="5.2" fill="#f39400"/><rect x="675" y="104" width="20" height="5.2" fill="#d0fa00"/><rect x="695" y="104" width="20" height="5.2" fill="#f0f200"/><rect x="715" y="104" width="5" height="5.2" fill="#d0fa00"/><rect x="720" y="104" width="5" height="5.2" fill="#98fa00"/><rect x="725" y="104" width="20" height="5.2" fill="#14dc00"/><rect x="745" y="104" width="5" height="5.2" fill="#d0fa00"/><rect x="750" y="104" width="10" height="5.2" fill="#ffdc00"/><rect x="760" y="104" width="5" height="5.2" fill="#d0fa00"/><rect x="765" y="104" width="10" height="5.2" fill="#ffdc00"/><rect x="775" y="104" width="30" height="5.2" fill="#fdbc00"/><rect x="805" y="104" width="10" height="5.2" fill="#d0fa00"/><rect x="815" y="104" width="5" height="5.2" fill="#ffdc00"/><rect x="820" y="104" width="55" height="5.2" fill="#fdbc00"/><rect x="875" y="104" width="10" height="5.2" fill="#f39400"/><rect x="675" y="109" width="15" height="5.2" fill="#d0fa00"/><rect x="690" y="109" width="5" height="5.2" fill="#98fa00"/><rect x="695" y="109" width="20" height="5.2" fill="#f0f200"/><rect x="715" y="109" width="5" height="5.2" fill="#d0fa00"/><rect x="720" y="109" width="5" height="5.2" fill="#98fa00"/><rect x="725" y="109" width="20" height="5.2" fill="#14dc00"/><rect x="745" y="109" width="5" height="5.2" fill="#d0fa00"/><rect x="750" y="109" width="5" height="5.2" fill="#ffdc00"/><rect x="755" y="109" width="5" height="5.2" fill="#fdbc00"/><rect x="760" y="109" width="10" height="5.2" fill="#ffdc00"/><rect x="770" y="109" width="35" height="5.2" fill="#fdbc00"/><rect x="805" y="109" width="10" height="5.2" fill="#d0fa00"/><rect x="815" y="109" width="5" height="5.2" fill="#ffdc00"/><rect x="820" y="109" width="55" height="5.2" fill="#fdbc00"/><rect x="875" y="109" width="10" height="5.2" fill="#f39400"/><rect x="675" y="114" width="15" height="5.2" fill="#d0fa00"/><rect x="690" y="114" width="25" height="5.2" fill="#f0f200"/><rect x="715" y="114" width="10" height="5.2" fill="#98fa00"/><rect x="725" y="114" width="15" height="5.2" fill="#14dc00"/><rect x="740" y="114" width="5" height="5.2" fill="#00cc10"/><rect x="745" y="114" width="5" height="5.2" fill="#d0fa00"/><rect x="750" y="114" width="10" height="5.2" fill="#ffdc00"/><rect x="760" y="114" width="10" height="5.2" fill="#fdbc00"/><rect x="770" y="114" width="5" height="5.2" fill="#ffdc00"/><rect x="775" y="114" width="5" height="5.2" fill="#fdbc00"/><rect x="780" y="114" width="10" height="5.2" fill="#ffdc00"/><rect x="790" y="114" width="15" height="5.2" fill="#fdbc00"/><rect x="805" y="114" width="10" height="5.2" fill="#d0fa00"/><rect x="815" y="114" width="5" height="5.2" fill="#ffdc00"/><rect x="820" y="114" width="65" height="5.2" fill="#fdbc00"/><rect x="675" y="119" width="40" height="5.2" fill="#f0f200"/><rect x="715" y="119" width="5" height="5.2" fill="#d0fa00"/><rect x="720" y="119" width="5" height="5.2" fill="#98fa00"/><rect x="725" y="119" width="20" height="5.2" fill="#14dc00"/><rect x="745" y="119" width="10" height="5.2" fill="#ffdc00"/><rect x="755" y="119" width="5" height="5.2" fill="#fdbc00"/><rect x="760" y="119" width="5" height="5.2" fill="#ffdc00"/><rect x="765" y="119" width="5" height="5.2" fill="#d0fa00"/><rect x="770" y="119" width="5" height="5.2" fill="#98fa00"/><rect x="775" y="119" width="5" height="5.2" fill="#14dc00"/><rect x="780" y="119" width="5" height="5.2" fill="#98fa00"/><rect x="785" y="119" width="5" height="5.2" fill="#14dc00"/><rect x="790" y="119" width="5" height="5.2" fill="#d0fa00"/><rect x="795" y="119" width="5" height="5.2" fill="#ffdc00"/><rect x="800" y="119" width="5" height="5.2" fill="#fdbc00"/><rect x="805" y="119" width="5" height="5.2" fill="#ffdc00"/><rect x="810" y="119" width="5" height="5.2" fill="#d0fa00"/><rect x="815" y="119" width="5" height="5.2" fill="#f0f200"/><rect x="820" y="119" width="40" height="5.2" fill="#fdbc00"/><rect x="860" y="119" width="5" height="5.2" fill="#d0fa00"/><rect x="865" y="119" width="5" height="5.2" fill="#f0f200"/><rect x="870" y="119" width="15" height="5.2" fill="#f39400"/><rect x="675" y="124" width="15" height="5.2" fill="#f0f200"/><rect x="690" y="124" width="10" height="5.2" fill="#d0fa00"/><rect x="700" y="124" width="15" height="5.2" fill="#f0f200"/><rect x="715" y="124" width="5" height="5.2" fill="#d0fa00"/><rect x="720" y="124" width="5" height="5.2" fill="#98fa00"/><rect x="725" y="124" width="25" height="5.2" fill="#14dc00"/><rect x="750" y="124" width="5" height="5.2" fill="#98fa00"/><rect x="755" y="124" width="10" height="5.2" fill="#14dc00"/><rect x="765" y="124" width="10" height="5.2" fill="#d0fa00"/><rect x="775" y="124" width="10" height="5.2" fill="#14dc00"/><rect x="785" y="124" width="15" height="5.2" fill="#98fa00"/><rect x="800" y="124" width="10" height="5.2" fill="#d0fa00"/><rect x="810" y="124" width="5" height="5.2" fill="#98fa00"/><rect x="815" y="124" width="5" height="5.2" fill="#d0fa00"/><rect x="820" y="124" width="5" height="5.2" fill="#ffdc00"/><rect x="825" y="124" width="30" height="5.2" fill="#fdbc00"/><rect x="855" y="124" width="5" height="5.2" fill="#f0f200"/><rect x="860" y="124" width="5" height="5.2" fill="#d0fa00"/><rect x="865" y="124" width="5" height="5.2" fill="#f0f200"/><rect x="870" y="124" width="15" height="5.2" fill="#f39400"/><rect x="675" y="129" width="10" height="5.2" fill="#ffdc00"/><rect x="685" y="129" width="5" height="5.2" fill="#f0f200"/><rect x="690" y="129" width="30" height="5.2" fill="#d0fa00"/><rect x="720" y="129" width="10" height="5.2" fill="#98fa00"/><rect x="730" y="129" width="25" height="5.2" fill="#14dc00"/><rect x="755" y="129" width="10" height="5.2" fill="#98fa00"/><rect x="765" y="129" width="20" height="5.2" fill="#14dc00"/><rect x="785" y="129" width="5" height="5.2" fill="#98fa00"/><rect x="790" y="129" width="30" height="5.2" fill="#d0fa00"/><rect x="820" y="129" width="5" height="5.2" fill="#f0f200"/><rect x="825" y="129" width="30" height="5.2" fill="#fdbc00"/><rect x="855" y="129" width="5" height="5.2" fill="#f0f200"/><rect x="860" y="129" width="5" height="5.2" fill="#d0fa00"/><rect x="865" y="129" width="5" height="5.2" fill="#f0f200"/><rect x="870" y="129" width="5" height="5.2" fill="#f39400"/><rect x="875" y="129" width="10" height="5.2" fill="#cc5400"/><rect x="675" y="134" width="10" height="5.2" fill="#f0f200"/><rect x="685" y="134" width="35" height="5.2" fill="#d0fa00"/><rect x="720" y="134" width="10" height="5.2" fill="#98fa00"/><rect x="730" y="134" width="30" height="5.2" fill="#14dc00"/><rect x="760" y="134" width="5" height="5.2" fill="#98fa00"/><rect x="765" y="134" width="20" height="5.2" fill="#14dc00"/><rect x="785" y="134" width="5" height="5.2" fill="#98fa00"/><rect x="790" y="134" width="15" height="5.2" fill="#d0fa00"/><rect x="805" y="134" width="5" height="5.2" fill="#98fa00"/><rect x="810" y="134" width="5" height="5.2" fill="#14dc00"/><rect x="815" y="134" width="5" height="5.2" fill="#98fa00"/><rect x="820" y="134" width="5" height="5.2" fill="#d0fa00"/><rect x="825" y="134" width="5" height="5.2" fill="#f0f200"/><rect x="830" y="134" width="25" height="5.2" fill="#fdbc00"/><rect x="855" y="134" width="5" height="5.2" fill="#f0f200"/><rect x="860" y="134" width="5" height="5.2" fill="#d0fa00"/><rect x="865" y="134" width="5" height="5.2" fill="#fdbc00"/><rect x="870" y="134" width="5" height="5.2" fill="#f39400"/><rect x="875" y="134" width="10" height="5.2" fill="#cc5400"/><rect x="675" y="139" width="45" height="5.2" fill="#d0fa00"/><rect x="720" y="139" width="10" height="5.2" fill="#98fa00"/><rect x="730" y="139" width="15" height="5.2" fill="#14dc00"/><rect x="745" y="139" width="10" height="5.2" fill="#00cc10"/><rect x="755" y="139" width="30" height="5.2" fill="#14dc00"/><rect x="785" y="139" width="15" height="5.2" fill="#98fa00"/><rect x="800" y="139" width="5" height="5.2" fill="#d0fa00"/><rect x="805" y="139" width="15" height="5.2" fill="#98fa00"/><rect x="820" y="139" width="15" height="5.2" fill="#d0fa00"/><rect x="835" y="139" width="15" height="5.2" fill="#fdbc00"/><rect x="850" y="139" width="5" height="5.2" fill="#ffdc00"/><rect x="855" y="139" width="5" height="5.2" fill="#d0fa00"/><rect x="860" y="139" width="5" height="5.2" fill="#98fa00"/><rect x="865" y="139" width="5" height="5.2" fill="#ffdc00"/><rect x="870" y="139" width="5" height="5.2" fill="#fdbc00"/><rect x="875" y="139" width="10" height="5.2" fill="#f39400"/><rect x="675" y="144" width="10" height="5.2" fill="#d0fa00"/><rect x="685" y="144" width="10" height="5.2" fill="#98fa00"/><rect x="695" y="144" width="25" height="5.2" fill="#d0fa00"/><rect x="720" y="144" width="10" height="5.2" fill="#98fa00"/><rect x="730" y="144" width="15" height="5.2" fill="#14dc00"/><rect x="745" y="144" width="10" height="5.2" fill="#00cc10"/><rect x="755" y="144" width="30" height="5.2" fill="#14dc00"/><rect x="785" y="144" width="30" height="5.2" fill="#98fa00"/><rect x="815" y="144" width="25" height="5.2" fill="#d0fa00"/><rect x="840" y="144" width="10" height="5.2" fill="#f0f200"/><rect x="850" y="144" width="15" height="5.2" fill="#98fa00"/><rect x="865" y="144" width="5" height="5.2" fill="#f0f200"/><rect x="870" y="144" width="15" height="5.2" fill="#fdbc00"/><rect x="675" y="149" width="10" height="5.2" fill="#d0fa00"/><rect x="685" y="149" width="5" height="5.2" fill="#14dc00"/><rect x="690" y="149" width="5" height="5.2" fill="#98fa00"/><rect x="695" y="149" width="10" height="5.2" fill="#d0fa00"/><rect x="705" y="149" width="10" height="5.2" fill="#f0f200"/><rect x="715" y="149" width="5" height="5.2" fill="#d0fa00"/><rect x="720" y="149" width="5" height="5.2" fill="#98fa00"/><rect x="725" y="149" width="5" height="5.2" fill="#14dc00"/><rect x="730" y="149" width="5" height="5.2" fill="#98fa00"/><rect x="735" y="149" width="10" height="5.2" fill="#14dc00"/><rect x="745" y="149" width="10" height="5.2" fill="#00cc10"/><rect x="755" y="149" width="30" height="5.2" fill="#14dc00"/><rect x="785" y="149" width="25" height="5.2" fill="#98fa00"/><rect x="810" y="149" width="5" height="5.2" fill="#14dc00"/><rect x="815" y="149" width="5" height="5.2" fill="#d0fa00"/><rect x="820" y="149" width="5" height="5.2" fill="#98fa00"/><rect x="825" y="149" width="5" height="5.2" fill="#d0fa00"/><rect x="830" y="149" width="5" height="5.2" fill="#14dc00"/><rect x="835" y="149" width="10" height="5.2" fill="#98fa00"/><rect x="845" y="149" width="15" height="5.2" fill="#14dc00"/><rect x="860" y="149" width="5" height="5.2" fill="#d0fa00"/><rect x="865" y="149" width="5" height="5.2" fill="#f0f200"/><rect x="870" y="149" width="15" height="5.2" fill="#fdbc00"/><rect x="675" y="154" width="10" height="5.2" fill="#d0fa00"/><rect x="685" y="154" width="10" height="5.2" fill="#14dc00"/><rect x="695" y="154" width="25" height="5.2" fill="#d0fa00"/><rect x="720" y="154" width="5" height="5.2" fill="#98fa00"/><rect x="725" y="154" width="5" height="5.2" fill="#14dc00"/><rect x="730" y="154" width="5" height="5.2" fill="#98fa00"/><rect x="735" y="154" width="50" height="5.2" fill="#14dc00"/><rect x="785" y="154" width="20" height="5.2" fill="#98fa00"/><rect x="805" y="154" width="10" height="5.2" fill="#14dc00"/><rect x="815" y="154" width="15" height="5.2" fill="#98fa00"/><rect x="830" y="154" width="30" height="5.2" fill="#14dc00"/><rect x="860" y="154" width="5" height="5.2" fill="#d0fa00"/><rect x="865" y="154" width="5" height="5.2" fill="#ffdc00"/><rect x="870" y="154" width="15" height="5.2" fill="#fdbc00"/><rect x="675" y="159" width="10" height="5.2" fill="#d0fa00"/><rect x="685" y="159" width="10" height="5.2" fill="#14dc00"/><rect x="695" y="159" width="25" height="5.2" fill="#d0fa00"/><rect x="720" y="159" width="5" height="5.2" fill="#98fa00"/><rect x="725" y="159" width="5" height="5.2" fill="#14dc00"/><rect x="730" y="159" width="5" height="5.2" fill="#98fa00"/><rect x="735" y="159" width="50" height="5.2" fill="#14dc00"/><rect x="785" y="159" width="20" height="5.2" fill="#98fa00"/><rect x="805" y="159" width="10" height="5.2" fill="#14dc00"/><rect x="815" y="159" width="15" height="5.2" fill="#98fa00"/><rect x="830" y="159" width="30" height="5.2" fill="#14dc00"/><rect x="860" y="159" width="5" height="5.2" fill="#d0fa00"/><rect x="865" y="159" width="5" height="5.2" fill="#ffdc00"/><rect x="870" y="159" width="15" height="5.2" fill="#fdbc00"/></g></g>
<g clip-path="url(#m2c)"><g filter="url(#mb)"><rect x="675" y="314" width="10" height="5.2" fill="#8cf500"/><rect x="685" y="314" width="5" height="5.2" fill="#c8ff00"/><rect x="690" y="314" width="10" height="5.2" fill="#f0f500"/><rect x="700" y="314" width="5" height="5.2" fill="#c8ff00"/><rect x="705" y="314" width="5" height="5.2" fill="#1ed800"/><rect x="710" y="314" width="10" height="5.2" fill="#00c846"/><rect x="720" y="314" width="5" height="5.2" fill="#1ed800"/><rect x="725" y="314" width="5" height="5.2" fill="#00c846"/><rect x="730" y="314" width="10" height="5.2" fill="#00be78"/><rect x="740" y="314" width="5" height="5.2" fill="#00d2c8"/><rect x="745" y="314" width="10" height="5.2" fill="#00be78"/><rect x="755" y="314" width="5" height="5.2" fill="#00c846"/><rect x="760" y="314" width="5" height="5.2" fill="#8cf500"/><rect x="765" y="314" width="5" height="5.2" fill="#c8ff00"/><rect x="770" y="314" width="5" height="5.2" fill="#8cf500"/><rect x="775" y="314" width="10" height="5.2" fill="#1ed800"/><rect x="785" y="314" width="10" height="5.2" fill="#00c846"/><rect x="795" y="314" width="5" height="5.2" fill="#00d2c8"/><rect x="800" y="314" width="5" height="5.2" fill="#00be78"/><rect x="805" y="314" width="15" height="5.2" fill="#00c846"/><rect x="820" y="314" width="5" height="5.2" fill="#1ed800"/><rect x="825" y="314" width="5" height="5.2" fill="#8cf500"/><rect x="830" y="314" width="10" height="5.2" fill="#c8ff00"/><rect x="840" y="314" width="5" height="5.2" fill="#f0f500"/><rect x="845" y="314" width="10" height="5.2" fill="#ffd200"/><rect x="855" y="314" width="5" height="5.2" fill="#f0f500"/><rect x="860" y="314" width="5" height="5.2" fill="#c8ff00"/><rect x="865" y="314" width="5" height="5.2" fill="#8cf500"/><rect x="870" y="314" width="15" height="5.2" fill="#1ed800"/><rect x="675" y="319" width="10" height="5.2" fill="#8cf500"/><rect x="685" y="319" width="5" height="5.2" fill="#c8ff00"/><rect x="690" y="319" width="10" height="5.2" fill="#f0f500"/><rect x="700" y="319" width="5" height="5.2" fill="#c8ff00"/><rect x="705" y="319" width="5" height="5.2" fill="#1ed800"/><rect x="710" y="319" width="10" height="5.2" fill="#00c846"/><rect x="720" y="319" width="5" height="5.2" fill="#1ed800"/><rect x="725" y="319" width="5" height="5.2" fill="#00c846"/><rect x="730" y="319" width="10" height="5.2" fill="#00be78"/><rect x="740" y="319" width="5" height="5.2" fill="#00d2c8"/><rect x="745" y="319" width="10" height="5.2" fill="#00be78"/><rect x="755" y="319" width="5" height="5.2" fill="#00c846"/><rect x="760" y="319" width="5" height="5.2" fill="#8cf500"/><rect x="765" y="319" width="5" height="5.2" fill="#c8ff00"/><rect x="770" y="319" width="5" height="5.2" fill="#8cf500"/><rect x="775" y="319" width="10" height="5.2" fill="#1ed800"/><rect x="785" y="319" width="10" height="5.2" fill="#00c846"/><rect x="795" y="319" width="5" height="5.2" fill="#00d2c8"/><rect x="800" y="319" width="5" height="5.2" fill="#00be78"/><rect x="805" y="319" width="15" height="5.2" fill="#00c846"/><rect x="820" y="319" width="5" height="5.2" fill="#1ed800"/><rect x="825" y="319" width="5" height="5.2" fill="#8cf500"/><rect x="830" y="319" width="10" height="5.2" fill="#c8ff00"/><rect x="840" y="319" width="5" height="5.2" fill="#f0f500"/><rect x="845" y="319" width="10" height="5.2" fill="#ffd200"/><rect x="855" y="319" width="5" height="5.2" fill="#f0f500"/><rect x="860" y="319" width="5" height="5.2" fill="#c8ff00"/><rect x="865" y="319" width="5" height="5.2" fill="#8cf500"/><rect x="870" y="319" width="15" height="5.2" fill="#1ed800"/><rect x="675" y="324" width="10" height="5.2" fill="#1ed800"/><rect x="685" y="324" width="10" height="5.2" fill="#c8ff00"/><rect x="695" y="324" width="5" height="5.2" fill="#f0f500"/><rect x="700" y="324" width="5" height="5.2" fill="#c8ff00"/><rect x="705" y="324" width="5" height="5.2" fill="#1ed800"/><rect x="710" y="324" width="5" height="5.2" fill="#00c846"/><rect x="715" y="324" width="5" height="5.2" fill="#00be78"/><rect x="720" y="324" width="20" height="5.2" fill="#00c846"/><rect x="740" y="324" width="10" height="5.2" fill="#00be78"/><rect x="750" y="324" width="10" height="5.2" fill="#00c846"/><rect x="760" y="324" width="10" height="5.2" fill="#8cf500"/><rect x="770" y="324" width="5" height="5.2" fill="#1ed800"/><rect x="775" y="324" width="5" height="5.2" fill="#00c846"/><rect x="780" y="324" width="5" height="5.2" fill="#8cf500"/><rect x="785" y="324" width="5" height="5.2" fill="#1ed800"/><rect x="790" y="324" width="15" height="5.2" fill="#00c846"/><rect x="805" y="324" width="5" height="5.2" fill="#00be78"/><rect x="810" y="324" width="10" height="5.2" fill="#00c846"/><rect x="820" y="324" width="5" height="5.2" fill="#8cf500"/><rect x="825" y="324" width="15" height="5.2" fill="#c8ff00"/><rect x="840" y="324" width="5" height="5.2" fill="#f0f500"/><rect x="845" y="324" width="10" height="5.2" fill="#ffd200"/><rect x="855" y="324" width="5" height="5.2" fill="#c8ff00"/><rect x="860" y="324" width="5" height="5.2" fill="#1ed800"/><rect x="865" y="324" width="10" height="5.2" fill="#00c846"/><rect x="875" y="324" width="10" height="5.2" fill="#00d2c8"/><rect x="675" y="329" width="15" height="5.2" fill="#1ed800"/><rect x="690" y="329" width="5" height="5.2" fill="#8cf500"/><rect x="695" y="329" width="10" height="5.2" fill="#c8ff00"/><rect x="705" y="329" width="5" height="5.2" fill="#1ed800"/><rect x="710" y="329" width="10" height="5.2" fill="#00c846"/><rect x="720" y="329" width="5" height="5.2" fill="#1ed800"/><rect x="725" y="329" width="5" height="5.2" fill="#8cf500"/><rect x="730" y="329" width="5" height="5.2" fill="#c8ff00"/><rect x="735" y="329" width="10" height="5.2" fill="#f0f500"/><rect x="745" y="329" width="5" height="5.2" fill="#1ed800"/><rect x="750" y="329" width="15" height="5.2" fill="#00c846"/><rect x="765" y="329" width="10" height="5.2" fill="#00d2c8"/><rect x="775" y="329" width="5" height="5.2" fill="#00c846"/><rect x="780" y="329" width="5" height="5.2" fill="#c8ff00"/><rect x="785" y="329" width="5" height="5.2" fill="#8cf500"/><rect x="790" y="329" width="5" height="5.2" fill="#1ed800"/><rect x="795" y="329" width="10" height="5.2" fill="#00c846"/><rect x="805" y="329" width="5" height="5.2" fill="#00be78"/><rect x="810" y="329" width="10" height="5.2" fill="#00c846"/><rect x="820" y="329" width="5" height="5.2" fill="#8cf500"/><rect x="825" y="329" width="15" height="5.2" fill="#c8ff00"/><rect x="840" y="329" width="5" height="5.2" fill="#f0f500"/><rect x="845" y="329" width="5" height="5.2" fill="#ffd200"/><rect x="850" y="329" width="5" height="5.2" fill="#f0f500"/><rect x="855" y="329" width="5" height="5.2" fill="#1ed800"/><rect x="860" y="329" width="10" height="5.2" fill="#00c846"/><rect x="870" y="329" width="5" height="5.2" fill="#00d2c8"/><rect x="875" y="329" width="10" height="5.2" fill="#00b4f0"/><rect x="675" y="334" width="10" height="5.2" fill="#00c846"/><rect x="685" y="334" width="5" height="5.2" fill="#1ed800"/><rect x="690" y="334" width="15" height="5.2" fill="#8cf500"/><rect x="705" y="334" width="5" height="5.2" fill="#1ed800"/><rect x="710" y="334" width="10" height="5.2" fill="#00c846"/><rect x="720" y="334" width="5" height="5.2" fill="#8cf500"/><rect x="725" y="334" width="10" height="5.2" fill="#f0f500"/><rect x="735" y="334" width="10" height="5.2" fill="#ffaa00"/><rect x="745" y="334" width="15" height="5.2" fill="#00c846"/><rect x="760" y="334" width="5" height="5.2" fill="#00be78"/><rect x="765" y="334" width="5" height="5.2" fill="#00d2c8"/><rect x="770" y="334" width="5" height="5.2" fill="#0a82ff"/><rect x="775" y="334" width="5" height="5.2" fill="#00d2c8"/><rect x="780" y="334" width="10" height="5.2" fill="#f0f500"/><rect x="790" y="334" width="5" height="5.2" fill="#c8ff00"/><rect x="795" y="334" width="5" height="5.2" fill="#1ed800"/><rect x="800" y="334" width="5" height="5.2" fill="#00c846"/><rect x="805" y="334" width="10" height="5.2" fill="#00be78"/><rect x="815" y="334" width="5" height="5.2" fill="#00c846"/><rect x="820" y="334" width="5" height="5.2" fill="#8cf500"/><rect x="825" y="334" width="15" height="5.2" fill="#c8ff00"/><rect x="840" y="334" width="10" height="5.2" fill="#f0f500"/><rect x="850" y="334" width="5" height="5.2" fill="#1ed800"/><rect x="855" y="334" width="15" height="5.2" fill="#00c846"/><rect x="870" y="334" width="5" height="5.2" fill="#00d2c8"/><rect x="875" y="334" width="10" height="5.2" fill="#0a82ff"/><rect x="675" y="339" width="10" height="5.2" fill="#00c846"/><rect x="685" y="339" width="10" height="5.2" fill="#1ed800"/><rect x="695" y="339" width="10" height="5.2" fill="#8cf500"/><rect x="705" y="339" width="5" height="5.2" fill="#1ed800"/><rect x="710" y="339" width="10" height="5.2" fill="#8cf500"/><rect x="720" y="339" width="5" height="5.2" fill="#f0f500"/><rect x="725" y="339" width="10" height="5.2" fill="#ffaa00"/><rect x="735" y="339" width="5" height="5.2" fill="#f08200"/><rect x="740" y="339" width="5" height="5.2" fill="#ffaa00"/><rect x="745" y="339" width="15" height="5.2" fill="#00c846"/><rect x="760" y="339" width="10" height="5.2" fill="#00d2c8"/><rect x="770" y="339" width="5" height="5.2" fill="#0a82ff"/><rect x="775" y="339" width="5" height="5.2" fill="#00d2c8"/><rect x="780" y="339" width="5" height="5.2" fill="#ffaa00"/><rect x="785" y="339" width="5" height="5.2" fill="#ffd200"/><rect x="790" y="339" width="5" height="5.2" fill="#f0f500"/><rect x="795" y="339" width="5" height="5.2" fill="#c8ff00"/><rect x="800" y="339" width="5" height="5.2" fill="#1ed800"/><rect x="805" y="339" width="5" height="5.2" fill="#00c846"/><rect x="810" y="339" width="5" height="5.2" fill="#00be78"/><rect x="815" y="339" width="5" height="5.2" fill="#00c846"/><rect x="820" y="339" width="5" height="5.2" fill="#1ed800"/><rect x="825" y="339" width="5" height="5.2" fill="#8cf500"/><rect x="830" y="339" width="5" height="5.2" fill="#c8ff00"/><rect x="835" y="339" width="5" height="5.2" fill="#8cf500"/><rect x="840" y="339" width="5" height="5.2" fill="#1ed800"/><rect x="845" y="339" width="20" height="5.2" fill="#00c846"/><rect x="865" y="339" width="5" height="5.2" fill="#00be78"/><rect x="870" y="339" width="5" height="5.2" fill="#00d2c8"/><rect x="875" y="339" width="10" height="5.2" fill="#00b4f0"/><rect x="675" y="344" width="10" height="5.2" fill="#00c846"/><rect x="685" y="344" width="10" height="5.2" fill="#1ed800"/><rect x="695" y="344" width="15" height="5.2" fill="#8cf500"/><rect x="710" y="344" width="10" height="5.2" fill="#c8ff00"/><rect x="720" y="344" width="5" height="5.2" fill="#ffd200"/><rect x="725" y="344" width="5" height="5.2" fill="#f08200"/><rect x="730" y="344" width="5" height="5.2" fill="#ffaa00"/><rect x="735" y="344" width="5" height="5.2" fill="#f08200"/><rect x="740" y="344" width="5" height="5.2" fill="#ffaa00"/><rect x="745" y="344" width="15" height="5.2" fill="#00c846"/><rect x="760" y="344" width="5" height="5.2" fill="#00b4f0"/><rect x="765" y="344" width="5" height="5.2" fill="#00d2c8"/><rect x="770" y="344" width="5" height="5.2" fill="#00b4f0"/><rect x="775" y="344" width="5" height="5.2" fill="#1ed800"/><rect x="780" y="344" width="5" height="5.2" fill="#f08200"/><rect x="785" y="344" width="5" height="5.2" fill="#ffaa00"/><rect x="790" y="344" width="5" height="5.2" fill="#f0f500"/><rect x="795" y="344" width="5" height="5.2" fill="#1ed800"/><rect x="800" y="344" width="10" height="5.2" fill="#00c846"/><rect x="810" y="344" width="5" height="5.2" fill="#00be78"/><rect x="815" y="344" width="5" height="5.2" fill="#00c846"/><rect x="820" y="344" width="5" height="5.2" fill="#1ed800"/><rect x="825" y="344" width="5" height="5.2" fill="#8cf500"/><rect x="830" y="344" width="5" height="5.2" fill="#c8ff00"/><rect x="835" y="344" width="10" height="5.2" fill="#1ed800"/><rect x="845" y="344" width="25" height="5.2" fill="#00c846"/><rect x="870" y="344" width="5" height="5.2" fill="#00be78"/><rect x="875" y="344" width="10" height="5.2" fill="#00c846"/><rect x="675" y="349" width="25" height="5.2" fill="#1ed800"/><rect x="700" y="349" width="5" height="5.2" fill="#8cf500"/><rect x="705" y="349" width="5" height="5.2" fill="#1ed800"/><rect x="710" y="349" width="5" height="5.2" fill="#8cf500"/><rect x="715" y="349" width="5" height="5.2" fill="#c8ff00"/><rect x="720" y="349" width="5" height="5.2" fill="#f0f500"/><rect x="725" y="349" width="5" height="5.2" fill="#ffaa00"/><rect x="730" y="349" width="5" height="5.2" fill="#f08200"/><rect x="735" y="349" width="5" height="5.2" fill="#ffaa00"/><rect x="740" y="349" width="5" height="5.2" fill="#f0f500"/><rect x="745" y="349" width="15" height="5.2" fill="#00c846"/><rect x="760" y="349" width="5" height="5.2" fill="#00d2c8"/><rect x="765" y="349" width="5" height="5.2" fill="#00be78"/><rect x="770" y="349" width="5" height="5.2" fill="#00c846"/><rect x="775" y="349" width="5" height="5.2" fill="#ffaa00"/><rect x="780" y="349" width="5" height="5.2" fill="#f08200"/><rect x="785" y="349" width="5" height="5.2" fill="#ffaa00"/><rect x="790" y="349" width="5" height="5.2" fill="#c8ff00"/><rect x="795" y="349" width="5" height="5.2" fill="#00c846"/><rect x="800" y="349" width="5" height="5.2" fill="#00be78"/><rect x="805" y="349" width="15" height="5.2" fill="#00c846"/><rect x="820" y="349" width="5" height="5.2" fill="#8cf500"/><rect x="825" y="349" width="15" height="5.2" fill="#c8ff00"/><rect x="840" y="349" width="5" height="5.2" fill="#1ed800"/><rect x="845" y="349" width="25" height="5.2" fill="#00c846"/><rect x="870" y="349" width="5" height="5.2" fill="#1ed800"/><rect x="875" y="349" width="10" height="5.2" fill="#ffd200"/><rect x="675" y="354" width="10" height="5.2" fill="#1ed800"/><rect x="685" y="354" width="5" height="5.2" fill="#8cf500"/><rect x="690" y="354" width="15" height="5.2" fill="#1ed800"/><rect x="705" y="354" width="10" height="5.2" fill="#8cf500"/><rect x="715" y="354" width="5" height="5.2" fill="#c8ff00"/><rect x="720" y="354" width="5" height="5.2" fill="#f0f500"/><rect x="725" y="354" width="15" height="5.2" fill="#ffaa00"/><rect x="740" y="354" width="5" height="5.2" fill="#f0f500"/><rect x="745" y="354" width="10" height="5.2" fill="#8cf500"/><rect x="755" y="354" width="5" height="5.2" fill="#00c846"/><rect x="760" y="354" width="10" height="5.2" fill="#00be78"/><rect x="770" y="354" width="5" height="5.2" fill="#c8ff00"/><rect x="775" y="354" width="10" height="5.2" fill="#f08200"/><rect x="785" y="354" width="5" height="5.2" fill="#f0f500"/><rect x="790" y="354" width="5" height="5.2" fill="#1ed800"/><rect x="795" y="354" width="5" height="5.2" fill="#00b4f0"/><rect x="800" y="354" width="5" height="5.2" fill="#00d2c8"/><rect x="805" y="354" width="5" height="5.2" fill="#00be78"/><rect x="810" y="354" width="10" height="5.2" fill="#00c846"/><rect x="820" y="354" width="5" height="5.2" fill="#1ed800"/><rect x="825" y="354" width="5" height="5.2" fill="#8cf500"/><rect x="830" y="354" width="10" height="5.2" fill="#c8ff00"/><rect x="840" y="354" width="30" height="5.2" fill="#1ed800"/><rect x="870" y="354" width="5" height="5.2" fill="#8cf500"/><rect x="875" y="354" width="10" height="5.2" fill="#f08200"/><rect x="675" y="359" width="10" height="5.2" fill="#8cf500"/><rect x="685" y="359" width="20" height="5.2" fill="#1ed800"/><rect x="705" y="359" width="15" height="5.2" fill="#8cf500"/><rect x="720" y="359" width="5" height="5.2" fill="#c8ff00"/><rect x="725" y="359" width="15" height="5.2" fill="#f0f500"/><rect x="740" y="359" width="10" height="5.2" fill="#8cf500"/><rect x="750" y="359" width="10" height="5.2" fill="#f0f500"/><rect x="760" y="359" width="10" height="5.2" fill="#00c846"/><rect x="770" y="359" width="5" height="5.2" fill="#f0f500"/><rect x="775" y="359" width="10" height="5.2" fill="#ffaa00"/><rect x="785" y="359" width="5" height="5.2" fill="#f0f500"/><rect x="790" y="359" width="5" height="5.2" fill="#1ed800"/><rect x="795" y="359" width="10" height="5.2" fill="#0a82ff"/><rect x="805" y="359" width="5" height="5.2" fill="#00d2c8"/><rect x="810" y="359" width="5" height="5.2" fill="#00be78"/><rect x="815" y="359" width="10" height="5.2" fill="#00c846"/><rect x="825" y="359" width="5" height="5.2" fill="#c8ff00"/><rect x="830" y="359" width="10" height="5.2" fill="#f0f500"/><rect x="840" y="359" width="5" height="5.2" fill="#8cf500"/><rect x="845" y="359" width="5" height="5.2" fill="#c8ff00"/><rect x="850" y="359" width="5" height="5.2" fill="#8cf500"/><rect x="855" y="359" width="10" height="5.2" fill="#1ed800"/><rect x="865" y="359" width="5" height="5.2" fill="#8cf500"/><rect x="870" y="359" width="5" height="5.2" fill="#f0f500"/><rect x="875" y="359" width="10" height="5.2" fill="#f08200"/><rect x="675" y="364" width="30" height="5.2" fill="#1ed800"/><rect x="705" y="364" width="20" height="5.2" fill="#8cf500"/><rect x="725" y="364" width="5" height="5.2" fill="#c8ff00"/><rect x="730" y="364" width="10" height="5.2" fill="#8cf500"/><rect x="740" y="364" width="10" height="5.2" fill="#1ed800"/><rect x="750" y="364" width="5" height="5.2" fill="#c8ff00"/><rect x="755" y="364" width="15" height="5.2" fill="#ffd200"/><rect x="770" y="364" width="5" height="5.2" fill="#f0f500"/><rect x="775" y="364" width="5" height="5.2" fill="#c8ff00"/><rect x="780" y="364" width="10" height="5.2" fill="#f0f500"/><rect x="790" y="364" width="5" height="5.2" fill="#1ed800"/><rect x="795" y="364" width="10" height="5.2" fill="#0a82ff"/><rect x="805" y="364" width="5" height="5.2" fill="#00d2c8"/><rect x="810" y="364" width="5" height="5.2" fill="#00be78"/><rect x="815" y="364" width="5" height="5.2" fill="#00c846"/><rect x="820" y="364" width="5" height="5.2" fill="#1ed800"/><rect x="825" y="364" width="5" height="5.2" fill="#c8ff00"/><rect x="830" y="364" width="5" height="5.2" fill="#ffaa00"/><rect x="835" y="364" width="10" height="5.2" fill="#f0f500"/><rect x="845" y="364" width="5" height="5.2" fill="#ffaa00"/><rect x="850" y="364" width="5" height="5.2" fill="#ffd200"/><rect x="855" y="364" width="5" height="5.2" fill="#f0f500"/><rect x="860" y="364" width="5" height="5.2" fill="#ffd200"/><rect x="865" y="364" width="10" height="5.2" fill="#ffaa00"/><rect x="875" y="364" width="10" height="5.2" fill="#e05000"/><rect x="675" y="369" width="30" height="5.2" fill="#1ed800"/><rect x="705" y="369" width="5" height="5.2" fill="#8cf500"/><rect x="710" y="369" width="15" height="5.2" fill="#1ed800"/><rect x="725" y="369" width="5" height="5.2" fill="#8cf500"/><rect x="730" y="369" width="15" height="5.2" fill="#1ed800"/><rect x="745" y="369" width="5" height="5.2" fill="#00c846"/><rect x="750" y="369" width="5" height="5.2" fill="#c8ff00"/><rect x="755" y="369" width="5" height="5.2" fill="#f0f500"/><rect x="760" y="369" width="10" height="5.2" fill="#ffd200"/><rect x="770" y="369" width="5" height="5.2" fill="#f0f500"/><rect x="775" y="369" width="5" height="5.2" fill="#8cf500"/><rect x="780" y="369" width="5" height="5.2" fill="#f0f500"/><rect x="785" y="369" width="5" height="5.2" fill="#c8ff00"/><rect x="790" y="369" width="5" height="5.2" fill="#1ed800"/><rect x="795" y="369" width="10" height="5.2" fill="#00b4f0"/><rect x="805" y="369" width="5" height="5.2" fill="#00d2c8"/><rect x="810" y="369" width="5" height="5.2" fill="#00c846"/><rect x="815" y="369" width="5" height="5.2" fill="#1ed800"/><rect x="820" y="369" width="5" height="5.2" fill="#8cf500"/><rect x="825" y="369" width="5" height="5.2" fill="#f0f500"/><rect x="830" y="369" width="5" height="5.2" fill="#ffaa00"/><rect x="835" y="369" width="5" height="5.2" fill="#f0f500"/><rect x="840" y="369" width="5" height="5.2" fill="#ffd200"/><rect x="845" y="369" width="5" height="5.2" fill="#ffaa00"/><rect x="850" y="369" width="5" height="5.2" fill="#ffd200"/><rect x="855" y="369" width="5" height="5.2" fill="#f0f500"/><rect x="860" y="369" width="5" height="5.2" fill="#ffd200"/><rect x="865" y="369" width="5" height="5.2" fill="#f08200"/><rect x="870" y="369" width="5" height="5.2" fill="#ffaa00"/><rect x="875" y="369" width="10" height="5.2" fill="#e05000"/><rect x="675" y="374" width="35" height="5.2" fill="#1ed800"/><rect x="710" y="374" width="5" height="5.2" fill="#8cf500"/><rect x="715" y="374" width="10" height="5.2" fill="#1ed800"/><rect x="725" y="374" width="5" height="5.2" fill="#8cf500"/><rect x="730" y="374" width="10" height="5.2" fill="#1ed800"/><rect x="740" y="374" width="10" height="5.2" fill="#00c846"/><rect x="750" y="374" width="5" height="5.2" fill="#1ed800"/><rect x="755" y="374" width="5" height="5.2" fill="#f0f500"/><rect x="760" y="374" width="5" height="5.2" fill="#ffd200"/><rect x="765" y="374" width="5" height="5.2" fill="#ffaa00"/><rect x="770" y="374" width="5" height="5.2" fill="#f0f500"/><rect x="775" y="374" width="5" height="5.2" fill="#8cf500"/><rect x="780" y="374" width="5" height="5.2" fill="#ffaa00"/><rect x="785" y="374" width="5" height="5.2" fill="#c8ff00"/><rect x="790" y="374" width="5" height="5.2" fill="#1ed800"/><rect x="795" y="374" width="5" height="5.2" fill="#00be78"/><rect x="800" y="374" width="10" height="5.2" fill="#00d2c8"/><rect x="810" y="374" width="5" height="5.2" fill="#00c846"/><rect x="815" y="374" width="5" height="5.2" fill="#1ed800"/><rect x="820" y="374" width="5" height="5.2" fill="#8cf500"/><rect x="825" y="374" width="5" height="5.2" fill="#f0f500"/><rect x="830" y="374" width="5" height="5.2" fill="#ffaa00"/><rect x="835" y="374" width="5" height="5.2" fill="#f0f500"/><rect x="840" y="374" width="15" height="5.2" fill="#ffd200"/><rect x="855" y="374" width="5" height="5.2" fill="#f0f500"/><rect x="860" y="374" width="5" height="5.2" fill="#ffd200"/><rect x="865" y="374" width="5" height="5.2" fill="#f08200"/><rect x="870" y="374" width="5" height="5.2" fill="#ffaa00"/><rect x="875" y="374" width="10" height="5.2" fill="#e05000"/><rect x="675" y="379" width="40" height="5.2" fill="#1ed800"/><rect x="715" y="379" width="10" height="5.2" fill="#8cf500"/><rect x="725" y="379" width="10" height="5.2" fill="#1ed800"/><rect x="735" y="379" width="10" height="5.2" fill="#00c846"/><rect x="745" y="379" width="10" height="5.2" fill="#00be78"/><rect x="755" y="379" width="5" height="5.2" fill="#00c846"/><rect x="760" y="379" width="5" height="5.2" fill="#c8ff00"/><rect x="765" y="379" width="5" height="5.2" fill="#ffaa00"/><rect x="770" y="379" width="5" height="5.2" fill="#ffd200"/><rect x="775" y="379" width="5" height="5.2" fill="#ffaa00"/><rect x="780" y="379" width="5" height="5.2" fill="#ffd200"/><rect x="785" y="379" width="5" height="5.2" fill="#ffaa00"/><rect x="790" y="379" width="5" height="5.2" fill="#f0f500"/><rect x="795" y="379" width="5" height="5.2" fill="#1ed800"/><rect x="800" y="379" width="15" height="5.2" fill="#00c846"/><rect x="815" y="379" width="5" height="5.2" fill="#c8ff00"/><rect x="820" y="379" width="10" height="5.2" fill="#1ed800"/><rect x="830" y="379" width="5" height="5.2" fill="#8cf500"/><rect x="835" y="379" width="5" height="5.2" fill="#c8ff00"/><rect x="840" y="379" width="5" height="5.2" fill="#8cf500"/><rect x="845" y="379" width="5" height="5.2" fill="#c8ff00"/><rect x="850" y="379" width="10" height="5.2" fill="#f0f500"/><rect x="860" y="379" width="10" height="5.2" fill="#ffd200"/><rect x="870" y="379" width="15" height="5.2" fill="#ffaa00"/><rect x="675" y="384" width="40" height="5.2" fill="#1ed800"/><rect x="715" y="384" width="15" height="5.2" fill="#8cf500"/><rect x="730" y="384" width="5" height="5.2" fill="#1ed800"/><rect x="735" y="384" width="10" height="5.2" fill="#00c846"/><rect x="745" y="384" width="15" height="5.2" fill="#00be78"/><rect x="760" y="384" width="5" height="5.2" fill="#00c846"/><rect x="765" y="384" width="5" height="5.2" fill="#f0f500"/><rect x="770" y="384" width="5" height="5.2" fill="#ffd200"/><rect x="775" y="384" width="5" height="5.2" fill="#ffaa00"/><rect x="780" y="384" width="5" height="5.2" fill="#f0f500"/><rect x="785" y="384" width="5" height="5.2" fill="#ffaa00"/><rect x="790" y="384" width="5" height="5.2" fill="#f0f500"/><rect x="795" y="384" width="5" height="5.2" fill="#8cf500"/><rect x="800" y="384" width="5" height="5.2" fill="#1ed800"/><rect x="805" y="384" width="10" height="5.2" fill="#00c846"/><rect x="815" y="384" width="5" height="5.2" fill="#c8ff00"/><rect x="820" y="384" width="5" height="5.2" fill="#1ed800"/><rect x="825" y="384" width="5" height="5.2" fill="#00c846"/><rect x="830" y="384" width="10" height="5.2" fill="#1ed800"/><rect x="840" y="384" width="5" height="5.2" fill="#c8ff00"/><rect x="845" y="384" width="10" height="5.2" fill="#f0f500"/><rect x="855" y="384" width="15" height="5.2" fill="#ffd200"/><rect x="870" y="384" width="5" height="5.2" fill="#ffaa00"/><rect x="875" y="384" width="10" height="5.2" fill="#ffd200"/><rect x="675" y="389" width="40" height="5.2" fill="#1ed800"/><rect x="715" y="389" width="10" height="5.2" fill="#8cf500"/><rect x="725" y="389" width="15" height="5.2" fill="#1ed800"/><rect x="740" y="389" width="10" height="5.2" fill="#00c846"/><rect x="750" y="389" width="5" height="5.2" fill="#00be78"/><rect x="755" y="389" width="10" height="5.2" fill="#00c846"/><rect x="765" y="389" width="5" height="5.2" fill="#c8ff00"/><rect x="770" y="389" width="5" height="5.2" fill="#f0f500"/><rect x="775" y="389" width="5" height="5.2" fill="#ffaa00"/><rect x="780" y="389" width="5" height="5.2" fill="#ffd200"/><rect x="785" y="389" width="5" height="5.2" fill="#ffaa00"/><rect x="790" y="389" width="5" height="5.2" fill="#f0f500"/><rect x="795" y="389" width="5" height="5.2" fill="#8cf500"/><rect x="800" y="389" width="5" height="5.2" fill="#c8ff00"/><rect x="805" y="389" width="5" height="5.2" fill="#8cf500"/><rect x="810" y="389" width="5" height="5.2" fill="#00c846"/><rect x="815" y="389" width="15" height="5.2" fill="#1ed800"/><rect x="830" y="389" width="10" height="5.2" fill="#00c846"/><rect x="840" y="389" width="5" height="5.2" fill="#1ed800"/><rect x="845" y="389" width="5" height="5.2" fill="#c8ff00"/><rect x="850" y="389" width="5" height="5.2" fill="#f0f500"/><rect x="855" y="389" width="5" height="5.2" fill="#ffd200"/><rect x="860" y="389" width="10" height="5.2" fill="#ffaa00"/><rect x="870" y="389" width="15" height="5.2" fill="#ffd200"/><rect x="675" y="394" width="40" height="5.2" fill="#1ed800"/><rect x="715" y="394" width="10" height="5.2" fill="#8cf500"/><rect x="725" y="394" width="20" height="5.2" fill="#1ed800"/><rect x="745" y="394" width="20" height="5.2" fill="#00c846"/><rect x="765" y="394" width="5" height="5.2" fill="#8cf500"/><rect x="770" y="394" width="5" height="5.2" fill="#c8ff00"/><rect x="775" y="394" width="15" height="5.2" fill="#f0f500"/><rect x="790" y="394" width="5" height="5.2" fill="#8cf500"/><rect x="795" y="394" width="10" height="5.2" fill="#c8ff00"/><rect x="805" y="394" width="5" height="5.2" fill="#8cf500"/><rect x="810" y="394" width="5" height="5.2" fill="#00c846"/><rect x="815" y="394" width="5" height="5.2" fill="#1ed800"/><rect x="820" y="394" width="5" height="5.2" fill="#8cf500"/><rect x="825" y="394" width="5" height="5.2" fill="#1ed800"/><rect x="830" y="394" width="10" height="5.2" fill="#00c846"/><rect x="840" y="394" width="5" height="5.2" fill="#1ed800"/><rect x="845" y="394" width="5" height="5.2" fill="#c8ff00"/><rect x="850" y="394" width="5" height="5.2" fill="#f0f500"/><rect x="855" y="394" width="15" height="5.2" fill="#ffaa00"/><rect x="870" y="394" width="5" height="5.2" fill="#ffd200"/><rect x="875" y="394" width="10" height="5.2" fill="#c8ff00"/><rect x="675" y="399" width="35" height="5.2" fill="#1ed800"/><rect x="710" y="399" width="15" height="5.2" fill="#8cf500"/><rect x="725" y="399" width="10" height="5.2" fill="#1ed800"/><rect x="735" y="399" width="5" height="5.2" fill="#8cf500"/><rect x="740" y="399" width="5" height="5.2" fill="#1ed800"/><rect x="745" y="399" width="15" height="5.2" fill="#8cf500"/><rect x="760" y="399" width="5" height="5.2" fill="#00c846"/><rect x="765" y="399" width="10" height="5.2" fill="#8cf500"/><rect x="775" y="399" width="5" height="5.2" fill="#c8ff00"/><rect x="780" y="399" width="10" height="5.2" fill="#8cf500"/><rect x="790" y="399" width="5" height="5.2" fill="#1ed800"/><rect x="795" y="399" width="10" height="5.2" fill="#c8ff00"/><rect x="805" y="399" width="5" height="5.2" fill="#8cf500"/><rect x="810" y="399" width="5" height="5.2" fill="#00c846"/><rect x="815" y="399" width="5" height="5.2" fill="#8cf500"/><rect x="820" y="399" width="5" height="5.2" fill="#c8ff00"/><rect x="825" y="399" width="5" height="5.2" fill="#8cf500"/><rect x="830" y="399" width="10" height="5.2" fill="#00c846"/><rect x="840" y="399" width="5" height="5.2" fill="#1ed800"/><rect x="845" y="399" width="5" height="5.2" fill="#c8ff00"/><rect x="850" y="399" width="5" height="5.2" fill="#f0f500"/><rect x="855" y="399" width="5" height="5.2" fill="#ffaa00"/><rect x="860" y="399" width="5" height="5.2" fill="#ffd200"/><rect x="865" y="399" width="5" height="5.2" fill="#ffaa00"/><rect x="870" y="399" width="5" height="5.2" fill="#ffd200"/><rect x="875" y="399" width="10" height="5.2" fill="#c8ff00"/><rect x="675" y="404" width="35" height="5.2" fill="#1ed800"/><rect x="710" y="404" width="10" height="5.2" fill="#8cf500"/><rect x="720" y="404" width="15" height="5.2" fill="#1ed800"/><rect x="735" y="404" width="5" height="5.2" fill="#8cf500"/><rect x="740" y="404" width="5" height="5.2" fill="#1ed800"/><rect x="745" y="404" width="5" height="5.2" fill="#8cf500"/><rect x="750" y="404" width="10" height="5.2" fill="#c8ff00"/><rect x="760" y="404" width="5" height="5.2" fill="#1ed800"/><rect x="765" y="404" width="10" height="5.2" fill="#8cf500"/><rect x="775" y="404" width="20" height="5.2" fill="#1ed800"/><rect x="795" y="404" width="10" height="5.2" fill="#c8ff00"/><rect x="805" y="404" width="5" height="5.2" fill="#8cf500"/><rect x="810" y="404" width="5" height="5.2" fill="#00c846"/><rect x="815" y="404" width="5" height="5.2" fill="#8cf500"/><rect x="820" y="404" width="5" height="5.2" fill="#c8ff00"/><rect x="825" y="404" width="5" height="5.2" fill="#8cf500"/><rect x="830" y="404" width="10" height="5.2" fill="#00c846"/><rect x="840" y="404" width="5" height="5.2" fill="#c8ff00"/><rect x="845" y="404" width="10" height="5.2" fill="#f0f500"/><rect x="855" y="404" width="5" height="5.2" fill="#ffaa00"/><rect x="860" y="404" width="10" height="5.2" fill="#ffd200"/><rect x="870" y="404" width="5" height="5.2" fill="#f0f500"/><rect x="875" y="404" width="10" height="5.2" fill="#c8ff00"/><rect x="675" y="409" width="10" height="5.2" fill="#1ed800"/><rect x="685" y="409" width="10" height="5.2" fill="#8cf500"/><rect x="695" y="409" width="15" height="5.2" fill="#1ed800"/><rect x="710" y="409" width="15" height="5.2" fill="#8cf500"/><rect x="725" y="409" width="10" height="5.2" fill="#1ed800"/><rect x="735" y="409" width="5" height="5.2" fill="#8cf500"/><rect x="740" y="409" width="5" height="5.2" fill="#1ed800"/><rect x="745" y="409" width="10" height="5.2" fill="#8cf500"/><rect x="755" y="409" width="5" height="5.2" fill="#c8ff00"/><rect x="760" y="409" width="5" height="5.2" fill="#1ed800"/><rect x="765" y="409" width="5" height="5.2" fill="#8cf500"/><rect x="770" y="409" width="15" height="5.2" fill="#1ed800"/><rect x="785" y="409" width="5" height="5.2" fill="#00c846"/><rect x="790" y="409" width="5" height="5.2" fill="#00be78"/><rect x="795" y="409" width="5" height="5.2" fill="#8cf500"/><rect x="800" y="409" width="5" height="5.2" fill="#c8ff00"/><rect x="805" y="409" width="5" height="5.2" fill="#1ed800"/><rect x="810" y="409" width="5" height="5.2" fill="#c8ff00"/><rect x="815" y="409" width="5" height="5.2" fill="#f0f500"/><rect x="820" y="409" width="5" height="5.2" fill="#ffd200"/><rect x="825" y="409" width="5" height="5.2" fill="#c8ff00"/><rect x="830" y="409" width="5" height="5.2" fill="#1ed800"/><rect x="835" y="409" width="5" height="5.2" fill="#8cf500"/><rect x="840" y="409" width="5" height="5.2" fill="#ffd200"/><rect x="845" y="409" width="10" height="5.2" fill="#ffaa00"/><rect x="855" y="409" width="5" height="5.2" fill="#f0f500"/><rect x="860" y="409" width="5" height="5.2" fill="#1ed800"/><rect x="865" y="409" width="5" height="5.2" fill="#c8ff00"/><rect x="870" y="409" width="5" height="5.2" fill="#ffd200"/><rect x="875" y="409" width="10" height="5.2" fill="#f0f500"/><rect x="675" y="414" width="15" height="5.2" fill="#8cf500"/><rect x="690" y="414" width="5" height="5.2" fill="#c8ff00"/><rect x="695" y="414" width="5" height="5.2" fill="#1ed800"/><rect x="700" y="414" width="25" height="5.2" fill="#8cf500"/><rect x="725" y="414" width="10" height="5.2" fill="#1ed800"/><rect x="735" y="414" width="5" height="5.2" fill="#8cf500"/><rect x="740" y="414" width="5" height="5.2" fill="#1ed800"/><rect x="745" y="414" width="15" height="5.2" fill="#8cf500"/><rect x="760" y="414" width="5" height="5.2" fill="#1ed800"/><rect x="765" y="414" width="5" height="5.2" fill="#8cf500"/><rect x="770" y="414" width="15" height="5.2" fill="#1ed800"/><rect x="785" y="414" width="5" height="5.2" fill="#00c846"/><rect x="790" y="414" width="5" height="5.2" fill="#00be78"/><rect x="795" y="414" width="5" height="5.2" fill="#00c846"/><rect x="800" y="414" width="10" height="5.2" fill="#c8ff00"/><rect x="810" y="414" width="5" height="5.2" fill="#8cf500"/><rect x="815" y="414" width="5" height="5.2" fill="#c8ff00"/><rect x="820" y="414" width="5" height="5.2" fill="#f0f500"/><rect x="825" y="414" width="15" height="5.2" fill="#c8ff00"/><rect x="840" y="414" width="10" height="5.2" fill="#ffaa00"/><rect x="850" y="414" width="5" height="5.2" fill="#f08200"/><rect x="855" y="414" width="5" height="5.2" fill="#c8ff00"/><rect x="860" y="414" width="5" height="5.2" fill="#1ed800"/><rect x="865" y="414" width="5" height="5.2" fill="#00c846"/><rect x="870" y="414" width="5" height="5.2" fill="#c8ff00"/><rect x="875" y="414" width="10" height="5.2" fill="#ffd200"/><rect x="675" y="419" width="10" height="5.2" fill="#8cf500"/><rect x="685" y="419" width="10" height="5.2" fill="#c8ff00"/><rect x="695" y="419" width="5" height="5.2" fill="#1ed800"/><rect x="700" y="419" width="5" height="5.2" fill="#8cf500"/><rect x="705" y="419" width="5" height="5.2" fill="#1ed800"/><rect x="710" y="419" width="30" height="5.2" fill="#8cf500"/><rect x="740" y="419" width="20" height="5.2" fill="#1ed800"/><rect x="760" y="419" width="15" height="5.2" fill="#8cf500"/><rect x="775" y="419" width="10" height="5.2" fill="#1ed800"/><rect x="785" y="419" width="5" height="5.2" fill="#8cf500"/><rect x="790" y="419" width="10" height="5.2" fill="#00c846"/><rect x="800" y="419" width="15" height="5.2" fill="#8cf500"/><rect x="815" y="419" width="20" height="5.2" fill="#c8ff00"/><rect x="835" y="419" width="5" height="5.2" fill="#f0f500"/><rect x="840" y="419" width="15" height="5.2" fill="#ffaa00"/><rect x="855" y="419" width="5" height="5.2" fill="#c8ff00"/><rect x="860" y="419" width="5" height="5.2" fill="#1ed800"/><rect x="865" y="419" width="5" height="5.2" fill="#00c846"/><rect x="870" y="419" width="5" height="5.2" fill="#1ed800"/><rect x="875" y="419" width="10" height="5.2" fill="#c8ff00"/><rect x="675" y="424" width="10" height="5.2" fill="#8cf500"/><rect x="685" y="424" width="10" height="5.2" fill="#c8ff00"/><rect x="695" y="424" width="15" height="5.2" fill="#1ed800"/><rect x="710" y="424" width="10" height="5.2" fill="#8cf500"/><rect x="720" y="424" width="10" height="5.2" fill="#c8ff00"/><rect x="730" y="424" width="15" height="5.2" fill="#8cf500"/><rect x="745" y="424" width="15" height="5.2" fill="#1ed800"/><rect x="760" y="424" width="5" height="5.2" fill="#8cf500"/><rect x="765" y="424" width="5" height="5.2" fill="#c8ff00"/><rect x="770" y="424" width="10" height="5.2" fill="#8cf500"/><rect x="780" y="424" width="5" height="5.2" fill="#1ed800"/><rect x="785" y="424" width="5" height="5.2" fill="#c8ff00"/><rect x="790" y="424" width="5" height="5.2" fill="#8cf500"/><rect x="795" y="424" width="5" height="5.2" fill="#00c846"/><rect x="800" y="424" width="20" height="5.2" fill="#8cf500"/><rect x="820" y="424" width="15" height="5.2" fill="#c8ff00"/><rect x="835" y="424" width="5" height="5.2" fill="#f0f500"/><rect x="840" y="424" width="15" height="5.2" fill="#ffaa00"/><rect x="855" y="424" width="5" height="5.2" fill="#c8ff00"/><rect x="860" y="424" width="5" height="5.2" fill="#1ed800"/><rect x="865" y="424" width="5" height="5.2" fill="#00c846"/><rect x="870" y="424" width="5" height="5.2" fill="#1ed800"/><rect x="875" y="424" width="10" height="5.2" fill="#c8ff00"/><rect x="675" y="429" width="40" height="5.2" fill="#1ed800"/><rect x="715" y="429" width="5" height="5.2" fill="#8cf500"/><rect x="720" y="429" width="10" height="5.2" fill="#c8ff00"/><rect x="730" y="429" width="15" height="5.2" fill="#8cf500"/><rect x="745" y="429" width="15" height="5.2" fill="#1ed800"/><rect x="760" y="429" width="20" height="5.2" fill="#8cf500"/><rect x="780" y="429" width="5" height="5.2" fill="#1ed800"/><rect x="785" y="429" width="5" height="5.2" fill="#c8ff00"/><rect x="790" y="429" width="5" height="5.2" fill="#8cf500"/><rect x="795" y="429" width="5" height="5.2" fill="#1ed800"/><rect x="800" y="429" width="5" height="5.2" fill="#8cf500"/><rect x="805" y="429" width="5" height="5.2" fill="#1ed800"/><rect x="810" y="429" width="5" height="5.2" fill="#8cf500"/><rect x="815" y="429" width="5" height="5.2" fill="#1ed800"/><rect x="820" y="429" width="5" height="5.2" fill="#8cf500"/><rect x="825" y="429" width="10" height="5.2" fill="#c8ff00"/><rect x="835" y="429" width="5" height="5.2" fill="#f0f500"/><rect x="840" y="429" width="5" height="5.2" fill="#ffaa00"/><rect x="845" y="429" width="5" height="5.2" fill="#ffd200"/><rect x="850" y="429" width="5" height="5.2" fill="#ffaa00"/><rect x="855" y="429" width="5" height="5.2" fill="#8cf500"/><rect x="860" y="429" width="5" height="5.2" fill="#1ed800"/><rect x="865" y="429" width="5" height="5.2" fill="#00c846"/><rect x="870" y="429" width="5" height="5.2" fill="#1ed800"/><rect x="875" y="429" width="10" height="5.2" fill="#c8ff00"/><rect x="675" y="434" width="40" height="5.2" fill="#1ed800"/><rect x="715" y="434" width="5" height="5.2" fill="#8cf500"/><rect x="720" y="434" width="10" height="5.2" fill="#c8ff00"/><rect x="730" y="434" width="15" height="5.2" fill="#8cf500"/><rect x="745" y="434" width="15" height="5.2" fill="#1ed800"/><rect x="760" y="434" width="20" height="5.2" fill="#8cf500"/><rect x="780" y="434" width="5" height="5.2" fill="#1ed800"/><rect x="785" y="434" width="5" height="5.2" fill="#c8ff00"/><rect x="790" y="434" width="5" height="5.2" fill="#8cf500"/><rect x="795" y="434" width="5" height="5.2" fill="#1ed800"/><rect x="800" y="434" width="5" height="5.2" fill="#8cf500"/><rect x="805" y="434" width="5" height="5.2" fill="#1ed800"/><rect x="810" y="434" width="5" height="5.2" fill="#8cf500"/><rect x="815" y="434" width="5" height="5.2" fill="#1ed800"/><rect x="820" y="434" width="5" height="5.2" fill="#8cf500"/><rect x="825" y="434" width="5" height="5.2" fill="#c8ff00"/><rect x="830" y="434" width="5" height="5.2" fill="#8cf500"/><rect x="835" y="434" width="5" height="5.2" fill="#c8ff00"/><rect x="840" y="434" width="10" height="5.2" fill="#f0f500"/><rect x="850" y="434" width="5" height="5.2" fill="#8cf500"/><rect x="855" y="434" width="15" height="5.2" fill="#1ed800"/><rect x="870" y="434" width="5" height="5.2" fill="#8cf500"/><rect x="875" y="434" width="10" height="5.2" fill="#c8ff00"/><rect x="675" y="439" width="15" height="5.2" fill="#1ed800"/><rect x="690" y="439" width="5" height="5.2" fill="#00c846"/><rect x="695" y="439" width="10" height="5.2" fill="#1ed800"/><rect x="705" y="439" width="5" height="5.2" fill="#00c846"/><rect x="710" y="439" width="5" height="5.2" fill="#1ed800"/><rect x="715" y="439" width="5" height="5.2" fill="#8cf500"/><rect x="720" y="439" width="20" height="5.2" fill="#c8ff00"/><rect x="740" y="439" width="5" height="5.2" fill="#8cf500"/><rect x="745" y="439" width="15" height="5.2" fill="#1ed800"/><rect x="760" y="439" width="20" height="5.2" fill="#8cf500"/><rect x="780" y="439" width="5" height="5.2" fill="#1ed800"/><rect x="785" y="439" width="5" height="5.2" fill="#c8ff00"/><rect x="790" y="439" width="5" height="5.2" fill="#8cf500"/><rect x="795" y="439" width="20" height="5.2" fill="#1ed800"/><rect x="815" y="439" width="30" height="5.2" fill="#8cf500"/><rect x="845" y="439" width="25" height="5.2" fill="#1ed800"/><rect x="870" y="439" width="5" height="5.2" fill="#8cf500"/><rect x="875" y="439" width="10" height="5.2" fill="#c8ff00"/><rect x="675" y="444" width="15" height="5.2" fill="#1ed800"/><rect x="690" y="444" width="5" height="5.2" fill="#00c846"/><rect x="695" y="444" width="10" height="5.2" fill="#1ed800"/><rect x="705" y="444" width="5" height="5.2" fill="#00c846"/><rect x="710" y="444" width="5" height="5.2" fill="#1ed800"/><rect x="715" y="444" width="5" height="5.2" fill="#8cf500"/><rect x="720" y="444" width="20" height="5.2" fill="#c8ff00"/><rect x="740" y="444" width="40" height="5.2" fill="#8cf500"/><rect x="780" y="444" width="5" height="5.2" fill="#1ed800"/><rect x="785" y="444" width="10" height="5.2" fill="#8cf500"/><rect x="795" y="444" width="20" height="5.2" fill="#1ed800"/><rect x="815" y="444" width="30" height="5.2" fill="#8cf500"/><rect x="845" y="444" width="20" height="5.2" fill="#1ed800"/><rect x="865" y="444" width="10" height="5.2" fill="#8cf500"/><rect x="875" y="444" width="10" height="5.2" fill="#c8ff00"/><rect x="675" y="449" width="15" height="5.2" fill="#1ed800"/><rect x="690" y="449" width="5" height="5.2" fill="#00c846"/><rect x="695" y="449" width="10" height="5.2" fill="#1ed800"/><rect x="705" y="449" width="5" height="5.2" fill="#00c846"/><rect x="710" y="449" width="5" height="5.2" fill="#1ed800"/><rect x="715" y="449" width="5" height="5.2" fill="#8cf500"/><rect x="720" y="449" width="20" height="5.2" fill="#c8ff00"/><rect x="740" y="449" width="40" height="5.2" fill="#8cf500"/><rect x="780" y="449" width="5" height="5.2" fill="#1ed800"/><rect x="785" y="449" width="10" height="5.2" fill="#8cf500"/><rect x="795" y="449" width="20" height="5.2" fill="#1ed800"/><rect x="815" y="449" width="30" height="5.2" fill="#8cf500"/><rect x="845" y="449" width="20" height="5.2" fill="#1ed800"/><rect x="865" y="449" width="10" height="5.2" fill="#8cf500"/><rect x="875" y="449" width="10" height="5.2" fill="#c8ff00"/></g></g>
<path d="M700.5 29V26M700.5 261V264M749.5 29V26M749.5 261V264M798.5 29V26M798.5 261V264M847.5 29V26M847.5 261V264M679 37.5H676M878 37.5H881M679 76.5H676M878 76.5H881M679 115.5H676M878 115.5H881M679 153.5H676M878 153.5H881M679 192.5H676M878 192.5H881M679 231.5H676M878 231.5H881M679.5 29V261.5H877.5V29" stroke="#383838" stroke-width="1" fill="none"/>
<text x="689.70" y="278.50" font-size="12.6" fill="#383838" textLength="21.60" lengthAdjust="spacingAndGlyphs" >145</text>
<text x="738.70" y="278.50" font-size="12.6" fill="#383838" textLength="21.60" lengthAdjust="spacingAndGlyphs" >150</text>
<text x="787.70" y="278.50" font-size="12.6" fill="#383838" textLength="21.60" lengthAdjust="spacingAndGlyphs" >155</text>
<text x="836.70" y="278.50" font-size="12.6" fill="#383838" textLength="21.60" lengthAdjust="spacingAndGlyphs" >160</text>
<text x="654.30" y="42.01" font-size="12.6" fill="#383838" textLength="18.30" lengthAdjust="spacingAndGlyphs" >-54</text>
<text x="654.30" y="80.67" font-size="12.6" fill="#383838" textLength="18.30" lengthAdjust="spacingAndGlyphs" >-56</text>
<text x="654.30" y="119.33" font-size="12.6" fill="#383838" textLength="18.30" lengthAdjust="spacingAndGlyphs" >-58</text>
<text x="654.30" y="157.99" font-size="12.6" fill="#383838" textLength="18.30" lengthAdjust="spacingAndGlyphs" >-60</text>
<text x="654.30" y="196.65" font-size="12.6" fill="#383838" textLength="18.30" lengthAdjust="spacingAndGlyphs" >-62</text>
<text x="654.30" y="235.31" font-size="12.6" fill="#383838" textLength="18.30" lengthAdjust="spacingAndGlyphs" >-64</text>
<circle cx="778.4" cy="144.9" r="4.8" fill="none" stroke="#000" stroke-width="1.3"/>
<path d="M835.2 52.5L836.3 47.5" stroke="#000" stroke-width="1.3"/>
<path d="M700.5 319V316M700.5 551V554M749.5 319V316M749.5 551V554M798.5 319V316M798.5 551V554M847.5 319V316M847.5 551V554M679 327.5H676M878 327.5H881M679 366.5H676M878 366.5H881M679 405.5H676M878 405.5H881M679 443.5H676M878 443.5H881M679 482.5H676M878 482.5H881M679 521.5H676M878 521.5H881M679.5 319V551.5H877.5V319" stroke="#383838" stroke-width="1" fill="none"/>
<text x="689.70" y="568.50" font-size="12.6" fill="#383838" textLength="21.60" lengthAdjust="spacingAndGlyphs" >145</text>
<text x="738.70" y="568.50" font-size="12.6" fill="#383838" textLength="21.60" lengthAdjust="spacingAndGlyphs" >150</text>
<text x="787.70" y="568.50" font-size="12.6" fill="#383838" textLength="21.60" lengthAdjust="spacingAndGlyphs" >155</text>
<text x="836.70" y="568.50" font-size="12.6" fill="#383838" textLength="21.60" lengthAdjust="spacingAndGlyphs" >160</text>
<text x="654.30" y="332.01" font-size="12.6" fill="#383838" textLength="18.30" lengthAdjust="spacingAndGlyphs" >-54</text>
<text x="654.30" y="370.67" font-size="12.6" fill="#383838" textLength="18.30" lengthAdjust="spacingAndGlyphs" >-56</text>
<text x="654.30" y="409.33" font-size="12.6" fill="#383838" textLength="18.30" lengthAdjust="spacingAndGlyphs" >-58</text>
<text x="654.30" y="447.99" font-size="12.6" fill="#383838" textLength="18.30" lengthAdjust="spacingAndGlyphs" >-60</text>
<text x="654.30" y="486.65" font-size="12.6" fill="#383838" textLength="18.30" lengthAdjust="spacingAndGlyphs" >-62</text>
<text x="654.30" y="525.31" font-size="12.6" fill="#383838" textLength="18.30" lengthAdjust="spacingAndGlyphs" >-64</text>
<circle cx="778.4" cy="434.9" r="4.8" fill="none" stroke="#000" stroke-width="1.3"/>
<path d="M835.2 342.5L836.3 337.5" stroke="#000" stroke-width="1.3"/>
<text x="690.90" y="23.00" font-size="12.4" font-weight="bold" fill="#000" textLength="173.90" lengthAdjust="spacingAndGlyphs" >sat. SST: 2.4 Argo: 2.44</text>
<text x="680.50" y="295.70" font-size="12.4" font-weight="bold" fill="#000" textLength="127.50" lengthAdjust="spacingAndGlyphs" >Altim. SLA: 0.062</text>
<text x="653.80" y="312.00" font-size="12.4" font-weight="bold" fill="#000" textLength="250.00" lengthAdjust="spacingAndGlyphs" >Argo h1000: -0.037 h2000: -0.056</text>
<text transform="translate(889.3,538.5) rotate(-90)" font-size="12.6" fill="#383838" textLength="195.5" lengthAdjust="spacingAndGlyphs">©IMOS 01-Apr-2026 11:42:51</text>
</svg></body></html>
